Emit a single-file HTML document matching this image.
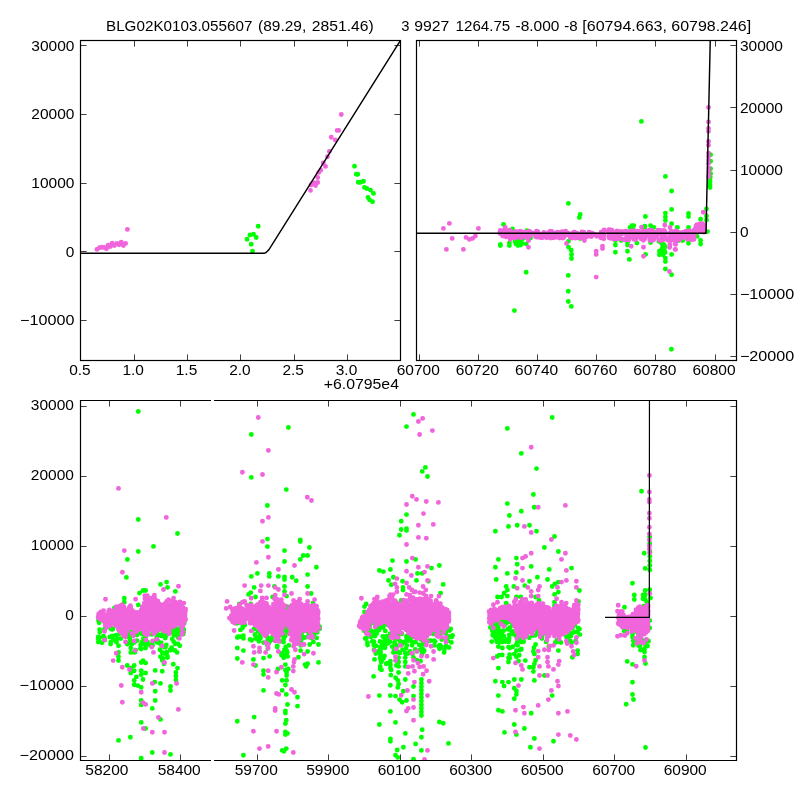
<!DOCTYPE html>
<html><head><meta charset="utf-8"><title>plot</title>
<style>
html,body{margin:0;padding:0;background:#fff;}
body{width:800px;height:800px;overflow:hidden;font-family:"Liberation Sans",sans-serif;}
svg{display:block}
text{font-family:"Liberation Sans",sans-serif;font-size:14.2px;fill:#000}
.fr{fill:none;stroke:#000;stroke-width:1.2}
.tk{stroke:#000;stroke-width:.75}
.ln{fill:none;stroke:#000;stroke-width:1.2;stroke-linejoin:round}
.p{fill:none;stroke:#f064dc;stroke-width:4.9;stroke-linecap:round}
.g{fill:none;stroke:#00ff00;stroke-width:4.9;stroke-linecap:round}
</style></head><body>
<svg width="800" height="800" viewBox="0 0 800 800">
<rect x="0" y="0" width="800" height="800" fill="#fff"/>

<defs><clipPath id="c1"><rect x="80" y="40" width="320" height="320"/></clipPath><clipPath id="c2"><rect x="416" y="40" width="321" height="320"/></clipPath><clipPath id="c3"><rect x="80" y="400" width="131" height="360"/></clipPath><clipPath id="c4"><rect x="214" y="400" width="523" height="360"/></clipPath></defs>
<path class="g" clip-path="url(#c1)" d="M258.2 226.2h0M250 235h0M253.5 234.2h0M247 239.2h0M256.2 237.5h0M251.2 244.2h0M252.5 251.2h0M354.5 166.3h0M356.3 174.2h0M357.8 174.2h0M358.2 182.2h0M360.5 182.2h0M363.5 181.3h0M364.5 187.4h0M366.8 188.5h0M370.5 190.1h0M373.5 193.4h0M368 197.5h0M369.5 199.7h0M372.5 201.7h0"/>
<path class="p" clip-path="url(#c1)" d="M96.9 249.4h0M99.4 247.8h0M101.9 247.2h0M104.1 247.5h0M106.4 248.8h0M108.1 245.3h0M110.3 246.6h0M112.2 243.1h0M114.4 245.6h0M116.9 243.4h0M119.1 244.7h0M121.2 242.2h0M123.4 245.6h0M125.6 243.4h0M127.4 229.4h0M341.3 114.5h0M337.2 130.4h0M338.7 130.4h0M331.2 137.2h0M335.3 140h0M329.4 151.4h0M327.5 156.7h0M323.3 163h0M325.5 166.4h0M320.7 170.2h0M318.8 172.4h0M317.7 177.5h0M314 182.8h0M317.7 182.5h0M311 185h0M315.5 185.5h0M310.5 190.4h0"/>
<path class="g" clip-path="url(#c2)" d="M503.5 224.4h0M500.4 244.4h0M500.4 245.6h0M509.4 243.1h0M509.4 245.6h0M512.5 229h0M526.9 230.6h0M526.2 244h0M530.6 237.8h0M580.2 214.4h0M579.4 217.5h0M568.5 241.2h0M568.5 247.1h0M571.2 250.2h0M571.5 254.4h0M571.5 258.5h0M580.2 238.5h0M568.4 203.4h0M671.6 191h0M671.6 209.4h0M665.4 213.1h0M665.4 216.9h0M665.4 220.6h0M645.4 216.5h0M631.9 225.6h0M633.8 225.6h0M630 227.5h0M633.1 229.4h0M644.8 226.2h0M644.8 228.8h0M650.6 225.6h0M653.8 227.5h0M651.9 228.8h0M671.6 223.8h0M677.5 227.5h0M615.4 240.6h0M615.4 245h0M615.4 252.2h0M621.2 240.6h0M627.5 242.5h0M627.5 245h0M627.5 251.2h0M629.4 259.4h0M636.9 243.1h0M645.6 254.4h0M650.6 242.5h0M658.8 241.2h0M661.2 242.5h0M662.5 245h0M665 246.9h0M659.4 251.2h0M662.5 251.2h0M665 252.5h0M659.4 254.8h0M663.1 254.8h0M665.4 258.1h0M665.4 261.5h0M665.4 269h0M671.6 254.4h0M671.6 274.8h0M678.8 240h0M688.5 213.4h0M688.5 216.5h0M677.2 227.5h0M688.5 227.5h0M700.6 219.2h0M706.5 208.9h0M706.5 216h0M706.5 220h0M709.5 182.8h0M709.5 186.2h0M707.5 231.6h0M682.7 240.5h0M688.5 243.2h0M700.6 240.5h0M700.6 244h0M697.1 236.4h0M661.4 241.9h0M664.1 244.6h0M662 248.8h0M664.8 251.5h0M661.4 253.6h0M678.6 240.5h0M526.2 272.3h0M514.4 310.6h0M568.3 275.4h0M568.3 291.3h0M568.3 301.5h0M571.3 306.4h0M629.3 259.4h0M671.4 349.3h0M710.6 154.8h0M710.6 161.2h0M710.6 168.8h0M710.6 173.8h0M710 180h0M710 182.5h0M710 185h0M710 187.5h0M710.3 177h0M641.4 121.4h0M665.4 176.4h0M515.5 238.5h0M517 241h0M516 244h0M518.5 239h0M519.5 242.5h0M518 245.5h0M521 240.5h0M522 243.5h0M520.5 245h0M523 238.5h0M515 241.5h0"/>
<path class="p" clip-path="url(#c2)" d="M443.4 228.4h0M449.4 223.4h0M452.2 238.4h0M446.4 249.4h0M463.4 249.4h0M466 237.4h0M469.4 239.4h0M472.6 238.4h0M475.4 236h0M478.4 228.4h0M528.5 247.2h0M528.5 240.6h0M510.2 239.4h0M566.5 243.4h0M584.4 240.4h0M505.2 227.5h0M584.4 240.6h0M596.2 251.2h0M596.2 254.4h0M602.5 246.2h0M602.5 248.5h0M596.2 277.1h0M631.2 246.2h0M643.5 247.2h0M643.5 256.2h0M641.5 227.1h0M664.8 225.2h0M669.8 246.9h0M669.8 245h0M675.6 244.4h0M675.6 249.4h0M669.4 271.5h0M670 227.5h0M703.3 212.3h0M664.8 225h0M669.6 247.4h0M675.1 249.5h0M675.1 244h0M687.5 239.4h0M693.7 237.1h0M708.5 107.5h0M708.5 121.9h0M708.5 128.5h0M708.5 131.2h0M708.5 141.5h0M708.5 145.2h0M708.5 153.1h0M708.5 156.2h0M708.5 160h0M708.5 163.5h0M708.8 168.1h0M708.8 171.2h0M708.8 175h0M708.5 176.9h0M502.9 230.8h0M506.3 230.3h0M505.1 232.5h0M500.1 233.6h0M499.9 233h0M500.2 230.4h0M504 236h0M500.8 231.4h0M506.1 236.9h0M505.6 232.7h0M509.8 230.1h0M508.5 231.9h0M501 230.6h0M502.7 235.9h0M501.4 234.1h0M506.2 232.5h0M505.3 230.2h0M500.1 231.3h0M506.6 232.9h0M502.8 234.2h0M504.3 232h0M507.8 235h0M502.1 234.1h0M505 236.4h0M507.2 231.9h0M509.8 230.6h0M503.9 235.5h0M501.1 233.4h0M513 235.8h0M568.9 235.2h0M577.4 233.4h0M563.5 235.3h0M554.7 234.3h0M574.7 237.7h0M546.5 235.8h0M514.7 236h0M559.8 238.1h0M573.3 233.2h0M539.7 235.8h0M511.7 234.4h0M522.9 232h0M514.5 236.5h0M520 232.9h0M540.1 237.2h0M516.2 234.3h0M552.3 237.3h0M573.1 237.2h0M531.4 234.1h0M537.6 237.3h0M583.7 232.2h0M523.6 232.8h0M528 234.5h0M555.4 233h0M510.3 234.1h0M538.4 235.1h0M583.4 236h0M549.7 235.5h0M562.1 231.6h0M579.3 236.6h0M577.3 236.7h0M540.2 234h0M518 235.6h0M514.8 231.7h0M526.1 232.3h0M536.2 231.6h0M510 232.2h0M517.8 233.7h0M512 237.2h0M557.3 232.2h0M529.4 233.6h0M538 232h0M575.4 238.1h0M545.9 234.5h0M516.6 231.9h0M536.4 233h0M573.8 232.3h0M511.8 237.8h0M550.7 232.2h0M551.8 231.4h0M550.7 238h0M576.5 236h0M530.1 233.7h0M522.9 236.5h0M551 236.6h0M535.4 232.7h0M572.5 238h0M575.7 236.8h0M573 236.3h0M527.5 234.8h0M537.4 231.4h0M512.2 233.1h0M530 236h0M583.7 234.3h0M582.2 238h0M583.5 233.7h0M527 232.8h0M525.1 232.6h0M558.1 237.4h0M574.7 234.5h0M560.3 236.7h0M516.5 235.8h0M580.1 236.6h0M567.8 234.5h0M523.7 236.6h0M535.6 236.7h0M584.8 233.9h0M540.9 237.7h0M565.8 232.4h0M519.8 232.2h0M579.7 236.8h0M521.3 236.9h0M585.5 235.7h0M537 235h0M520.1 231.3h0M584.8 235.7h0M550.5 237.6h0M543.4 237.2h0M573.6 232.7h0M529.4 233.2h0M528.5 235.2h0M530 234.1h0M520.1 237.5h0M537.2 234.4h0M554.9 237.4h0M542.4 237.5h0M548.6 234.9h0M550.3 231.3h0M543.9 232.5h0M510.3 236.7h0M523.3 234.5h0M565.8 235h0M535.1 234.8h0M552.8 236.6h0M518.2 235.1h0M529.1 233.1h0M569.5 234.7h0M553.3 236.4h0M580.3 234.3h0M557.2 234.7h0M549.4 236h0M544.8 234.9h0M546.8 237.7h0M563.8 237.2h0M582.5 233h0M553.1 237.7h0M574.7 232.1h0M519.4 234.3h0M515.6 232.9h0M515.6 235.8h0M570.4 237.4h0M521.9 236.1h0M560.8 232.2h0M578 237.9h0M526.9 237.8h0M540.7 234.6h0M586.2 236.9h0M522.4 234.2h0M549.7 233.5h0M525.1 233.4h0M565.6 231.3h0M552.7 234.2h0M511.4 233.5h0M558 234.7h0M515 238h0M570.7 237.9h0M518.1 233h0M513 236.6h0M530.8 232.1h0M542.5 237.5h0M573.1 233h0M521.5 237.5h0M553.9 236h0M516.9 231.6h0M563 234.1h0M515.6 237.7h0M558.9 236.7h0M516.4 237.1h0M515.1 237.2h0M544.9 233.5h0M552.6 237.6h0M530.6 232.1h0M550.6 232.8h0M518.4 232.3h0M513.9 232.6h0M534 233.3h0M568.5 233.2h0M548.5 232.4h0M536.7 231.3h0M529.3 231.3h0M566.4 235h0M524.6 234.5h0M582 231.9h0M573.1 234.2h0M548.1 237h0M540.3 234.7h0M563 238h0M536.4 236.9h0M564.4 235.6h0M593.2 233.8h0M589.1 232.8h0M589.3 235.6h0M591.4 233h0M589.5 236.1h0M598.5 235.3h0M591.7 233.3h0M591.9 234.3h0M590.3 234.3h0M591.5 236.6h0M599.7 234.7h0M591.3 236.6h0M592.1 233.8h0M588.5 234h0M594 234.5h0M590.8 234.5h0M588.6 233.4h0M589.5 234h0M589 232.3h0M592 233.3h0M595.2 234.6h0M597.1 235.2h0M596.7 236.2h0M593 233.7h0M617.7 231.1h0M613 235.9h0M600.8 237.7h0M616.1 235.7h0M613.2 237.5h0M602.5 234.7h0M609.1 237.7h0M614.5 237.6h0M610.5 238.3h0M612.3 236.4h0M604.1 230h0M602.4 233.2h0M601.9 237.7h0M610.1 235.7h0M611.3 236.2h0M608.8 229.7h0M614.4 236.9h0M609.1 234.8h0M611.9 230.3h0M613.3 232.1h0M601.3 232.2h0M613.1 231.7h0M613.3 239.1h0M608.9 233.4h0M608.6 236.3h0M613.8 235.6h0M611.6 230.4h0M602.7 232.1h0M613.4 232.6h0M610.2 229.8h0M601.1 232.3h0M612.1 236.3h0M612.2 232.5h0M609.3 234.2h0M608.4 230.8h0M616.1 231.6h0M617.6 238.7h0M600.3 234.1h0M614.8 239h0M608.1 232.3h0M603.8 238.8h0M603.8 235.3h0M602.6 234.7h0M617.1 231h0M614.8 234.6h0M642.8 237.5h0M624.5 239.3h0M631.6 230.9h0M618.1 235.4h0M630.6 233.6h0M621.9 234h0M626.9 238.8h0M618 237.9h0M641.5 231.9h0M643.9 237.5h0M643.2 233.5h0M628.4 234.5h0M646 236.4h0M628.1 234.8h0M625.7 231.2h0M620.8 238.7h0M626 239.7h0M625 233.3h0M632.3 232.5h0M628.5 239.9h0M642.8 238.5h0M635.7 239.5h0M644.3 236h0M638.1 231.2h0M638.5 235h0M639.1 236.9h0M626 231.2h0M643.9 231.9h0M631.2 234h0M626.3 237.8h0M645.3 233.2h0M636.4 233.6h0M633.6 234.5h0M622.7 232.3h0M623.8 239.4h0M631.9 232.8h0M643.4 240.3h0M630.6 232h0M623.4 231.6h0M627.6 231.6h0M624.7 233.2h0M633.9 239.2h0M639 234.7h0M629.6 235.7h0M628.6 233.9h0M619.7 233.4h0M645.1 231.9h0M632.1 236.7h0M642.2 232.8h0M625.6 233.1h0M629.2 235h0M644.7 238.8h0M642.4 230.9h0M618.9 237.5h0M643.1 235.2h0M634.4 230.7h0M629 239.6h0M641.1 238.9h0M645.2 233.1h0M621.1 232.2h0M632.6 237.2h0M644.4 237.6h0M636.1 238h0M630.8 236h0M619.1 238.2h0M624.5 239.5h0M636.1 233.6h0M621.6 233.1h0M635.8 237.4h0M621.1 231.4h0M656.5 236.4h0M653.8 232.6h0M658 230.3h0M652 235.1h0M665.2 237h0M663.7 235.2h0M650.7 232.8h0M665.2 237.7h0M652.1 230.4h0M656 237.3h0M654.4 232.9h0M659.3 240h0M650.5 230.6h0M652.8 234.7h0M659.7 232.3h0M661.9 238h0M656.1 232.4h0M665.4 233.5h0M662.4 232.6h0M650.4 238.3h0M651.9 240.3h0M655.9 232.2h0M650.5 234.6h0M659.3 240.3h0M648.9 234.4h0M650.3 240.5h0M648.8 230.7h0M647.2 234.4h0M664 239.6h0M660.7 240.8h0M664.6 233.7h0M649.7 240.1h0M660.9 230.5h0M659.3 234.2h0M653.5 233.7h0M649.4 230.2h0M651.6 233.9h0M665.1 231.5h0M665.3 232.4h0M653.1 238.9h0M662.4 234.8h0M647 235.2h0M653.5 239.9h0M649.9 234.1h0M663.9 230.5h0M654.2 238.8h0M661.3 230.6h0M646.7 230.9h0M664.4 232.9h0M660.9 239.7h0M678.1 232.8h0M693.9 236.1h0M676.2 237.1h0M677.6 232.8h0M669.6 237.5h0M692.9 236.3h0M693.6 230.4h0M675.5 234.8h0M693.9 239.4h0M679.4 232.6h0M680.5 234.9h0M693.2 232h0M690 237.3h0M690.5 237.6h0M685 233.3h0M677.6 233.7h0M689.4 231h0M674.5 237.4h0M675.8 230.8h0M670.4 235.5h0M677.8 239.6h0M692 239.7h0M676.3 231h0M672 235h0M687.6 234.5h0M675.5 234.2h0M685.3 236.7h0M688.6 238.3h0M686.4 231.4h0M690.9 233h0M684 233.8h0M688.3 232.1h0M675.8 232.6h0M673.4 238.7h0M684.2 233.3h0M679.6 239.7h0M682.4 232.4h0M690.1 236.5h0M694.8 231.2h0M681.6 238.1h0M690.9 239h0M670.5 233h0M672.5 232h0M694.3 235.8h0M693.2 233.8h0M691.6 234.5h0M676.1 237.7h0M693.6 231.2h0M684.7 236.2h0M675 233.7h0M673.1 232.2h0M676 236h0M686.1 232.2h0M669.8 233.3h0M686.8 232h0M677.5 232.2h0M689.8 235.5h0M671.1 231.2h0M679.6 235.5h0M685.8 231.1h0M669.6 238.8h0M672.1 236.1h0M671.1 240.5h0M671.1 237.9h0M671.6 236.9h0M676.6 240.8h0M671.6 235.5h0M675.3 235.5h0M668.1 240.2h0M672.2 239.6h0M672.1 240h0M672.6 235.3h0M668.1 237.8h0M674.4 240.2h0M695.9 229h0M698.7 227.9h0M696.5 226h0M700.2 231.6h0M696.1 227.8h0M703 232h0M697 224.6h0M704.4 232.1h0M699.8 224h0M704.3 226.9h0M704 229h0M703.2 224.9h0M702.9 225.5h0M699 230.9h0M703.3 225.1h0M697.2 227h0M700.2 226.9h0M696.2 225.7h0M702.2 231.4h0M695.4 228.4h0M702.6 223.8h0M703.4 224.5h0M701 228.3h0M701.3 226.2h0M699.2 228.6h0M699.3 229.3h0M699.5 227.4h0M695.2 228.9h0M699.9 225.6h0M702.6 230.4h0M699.6 225.1h0M699.7 224.4h0M696.3 227.3h0M695.9 227.4h0M700.1 223.9h0M701.4 224.2h0M702.3 230.3h0M700.1 224h0M700 226.8h0M704.5 224.7h0"/>
<path class="g" clip-path="url(#c3)" d="M138.3 411.5h0M138.3 519.5h0M177.5 533.5h0M153.5 546.4h0M138.3 551.5h0M127.4 559.5h0M126.4 577.4h0M160.5 584.4h0M166.6 582.1h0M167.5 587.4h0M175.4 591.4h0M139.5 593.1h0M143 590.5h0M145.6 590.5h0M124.3 598.2h0M124.3 602.2h0M138.3 604.9h0M114.5 608h0M147.4 601.4h0M118.5 740.4h0M130.4 737.2h0M141.2 758.2h0M152.3 752.5h0M170.5 754.4h0M141.2 722.4h0M145.6 728.5h0M160.5 719.4h0M152.3 708.4h0M141.2 700.5h0M141.2 704.9h0M155.2 700.5h0M155.2 691.2h0M170.5 686.5h0M170.5 690.5h0M160.5 683.4h0M154.7 682.1h0M141.2 687.4h0M137.8 685.6h0M134.2 684.8h0M134.2 680.4h0M136.4 676.9h0M143 679.5h0M141.2 670.8h0M141.2 674.8h0M145.6 673h0M155.2 670.4h0M162.2 671.3h0M175.9 672.5h0M175.9 676h0M175.9 680h0M177.5 668.1h0M173.3 664.3h0M127.2 665.5h0M130.8 668.1h0M134.2 665.5h0M134.2 670.8h0M130.8 673h0M141.2 662.5h0M143 660.6h0M145.6 662.9h0M118.5 652.4h0M118.5 656.8h0M118.5 660.6h0M160.5 656.8h0M162.2 660.2h0M164 663.8h0M167.5 657.6h0M162.2 652.4h0M177.1 652.4h0M130.8 648h0M130.8 652.4h0M134.2 652.4h0M145.6 648h0M110.6 644.1h0M101.9 642.8h0M99.8 632.2h0M99.8 637.5h0M105 640.1h0M103.5 636.2h0M104.9 622.5h0M104.7 629.3h0M98.3 642.1h0M104.4 637.9h0M99.8 620.6h0M98.3 636.9h0M99.2 641.5h0M98.1 638.8h0M104.4 629.5h0M99.1 622.8h0M99.6 629.6h0M98.5 620.2h0M112.7 629.3h0M112.5 637.9h0M111.9 629.4h0M110.7 628.8h0M109.8 637h0M110.8 642.1h0M112.4 635.9h0M113 628.7h0M117.4 638.4h0M116.6 641.7h0M118.5 645.8h0M119.6 633.8h0M116.1 635.1h0M115.3 640.6h0M116.5 642.1h0M120.9 638.6h0M134.3 642.4h0M127 636.3h0M128.6 632.2h0M131.8 643.2h0M136.9 640.6h0M129.5 633.3h0M127.2 644.1h0M130.9 632h0M130.9 633h0M133.4 634.7h0M129.2 642.5h0M132.2 643.4h0M137.3 633.3h0M128.6 635h0M134 632.8h0M135.6 650.1h0M129.9 638.1h0M134.1 632h0M130.9 641.8h0M131.9 643.9h0M135.1 652.1h0M136.9 635.1h0M132.8 632.3h0M129.6 638.2h0M135.6 632.4h0M144.5 630h0M140.4 648.4h0M145.1 632.1h0M145.4 637.7h0M140.7 645h0M142 633.9h0M147.9 630.3h0M146.2 644.2h0M147.4 630h0M143.7 643.2h0M143.5 643.2h0M140.1 632.5h0M139.4 632.6h0M146.5 634.3h0M147.5 642h0M141.7 642.4h0M143.4 638.7h0M144.2 644.3h0M145.4 633.1h0M141.2 649h0M150.1 645.4h0M151.9 634.4h0M157.6 642.6h0M152.6 642.6h0M152.6 645.4h0M157.3 634.2h0M155.5 640.4h0M157.8 641h0M156.7 637.6h0M156.9 641.7h0M165.2 638h0M161.1 642.6h0M164.2 631.6h0M167.1 628.9h0M158.3 630.1h0M167.3 629.4h0M159.4 635.2h0M158.4 628.2h0M164.3 647.1h0M165.4 647.3h0M163.9 628.7h0M166.2 635.8h0M166.9 652.2h0M166.7 628.7h0M167.4 656.2h0M160.1 629.4h0M158.3 629.5h0M166.1 653.4h0M166.3 644.9h0M160.9 644.8h0M159 629.3h0M160 649.7h0M162.2 634.5h0M160.6 628.1h0M165.2 633.5h0M161.2 635.9h0M163 658.4h0M164.2 653.5h0M174.1 628.2h0M177.7 636.1h0M177 633.9h0M172.2 638.9h0M170.9 649.1h0M171.7 647.7h0M172 628h0M179.8 645.8h0M174.9 628h0M178 637.6h0M174.9 630.4h0M178.3 633.9h0M179.4 632h0M172.1 632.5h0M175 643.8h0M176.4 629.2h0M177.9 628.8h0M177.9 643.7h0M173.6 641.6h0M173.9 635.2h0M170.9 650.1h0M170.3 650h0M172.6 630.8h0M175 650.5h0M178.8 634.7h0M182.3 624.4h0M183.8 629.4h0M183.2 634.1h0M181.6 626.1h0M184.2 623.3h0M183.7 632.1h0"/>
<path class="p" clip-path="url(#c3)" d="M118.5 488.4h0M166.3 517.4h0M124.3 550.6h0M122.4 572.2h0M105.5 599.3h0M163.5 589.5h0M178.5 586.3h0M135.6 599.3h0M144.8 595.6h0M147.4 595.6h0M154.4 595.2h0M151.8 597.9h0M173.6 598.2h0M166.6 601.4h0M122 604.9h0M130.4 605.8h0M178.9 603.1h0M183.8 603.1h0M113.2 660.6h0M116.2 653.2h0M122.3 667.2h0M129.5 669.5h0M121.3 685.5h0M122.3 702.2h0M141.2 692.3h0M143 702.6h0M145.6 704.4h0M152.3 683.4h0M176.6 683.4h0M178.4 709.4h0M158.4 717.5h0M143.4 728.5h0M152.3 732.2h0M164.5 732.2h0M164.5 752.5h0M164.5 662.5h0M135.1 650.6h0M151.8 647.1h0M153.5 652.4h0M162.2 645.9h0M125.5 641.9h0M134.2 641h0M104.5 640.1h0M104.5 631.4h0M152.6 641h0M157 639.2h0M179.4 638.4h0M182.4 627h0M182.4 632.2h0M133.4 635.8h0M146.5 634.9h0M123.8 635.8h0M98.7 613.9h0M98.5 615.6h0M98.1 617.3h0M98.5 617.8h0M100.1 612.9h0M100.5 614.6h0M99.9 616.3h0M99.8 618h0M100.2 619.2h0M102.2 612.7h0M101.5 614.4h0M101.5 616.1h0M101.6 617.8h0M101.9 619.5h0M103.4 612.7h0M103.6 614.4h0M103.2 616.1h0M103.4 617.8h0M103.2 619.5h0M103.6 621h0M104.9 615.2h0M105.7 616.9h0M104.9 618.6h0M105.1 620.3h0M105.7 622h0M105.5 623.7h0M105.3 625.2h0M107.2 615.1h0M106.9 616.8h0M106.6 618.5h0M107.1 620.2h0M106.6 621.9h0M106.7 623.6h0M107 625.2h0M108.5 611.7h0M108.9 613.4h0M108.8 615.1h0M108.7 616.8h0M108.8 618.5h0M108.6 620.2h0M108.3 621.9h0M108.8 623.6h0M108.6 625.3h0M108.7 625.4h0M110.6 611.5h0M110.8 613.2h0M110.3 614.9h0M110.4 616.6h0M110.6 618.3h0M110.3 620h0M110.1 621.7h0M110.6 623.4h0M110.7 625.1h0M110.4 625.5h0M112.4 611.1h0M112.2 612.8h0M112.2 614.5h0M112 616.2h0M111.9 617.9h0M112.2 619.6h0M111.6 621.3h0M112.1 622.8h0M113.7 610.6h0M114 612.3h0M114 614h0M113.9 615.7h0M113.5 617.4h0M113.7 619.1h0M113.7 620.8h0M113.9 622.5h0M113.8 623.2h0M115.9 612.4h0M115.1 614.1h0M115.6 615.8h0M115.7 617.5h0M115.3 619.2h0M115.4 620.9h0M115.9 622.6h0M115 624.3h0M115.5 625.5h0M117.2 611.3h0M116.8 613h0M117.4 614.7h0M117.6 616.4h0M117.2 618.1h0M116.8 619.8h0M117.2 621.5h0M117.2 623.2h0M117.4 624.9h0M117.2 626.1h0M119.2 610.6h0M118.9 612.3h0M118.8 614h0M119.3 615.7h0M118.6 617.4h0M119 619.1h0M118.7 620.8h0M119.1 622.5h0M118.5 624.2h0M119.3 625.9h0M118.7 627.6h0M118.4 629.3h0M118.9 630h0M120.3 609.5h0M120.4 611.2h0M120.1 612.9h0M120.5 614.6h0M120.5 616.3h0M120.7 618h0M120.4 619.7h0M120.3 621.4h0M120.3 623.1h0M120.8 624.8h0M121 626.5h0M120.6 628.2h0M120.3 629.9h0M120.9 631.6h0M120.6 632.2h0M121.9 606.7h0M122.5 608.4h0M122.6 610.1h0M122.4 611.8h0M122.2 613.5h0M122.3 615.2h0M122 616.9h0M122.7 618.6h0M122.1 620.3h0M122.4 622h0M122.6 623.7h0M122.6 625.4h0M122.2 627.1h0M122 628.8h0M122.3 630.5h0M121.9 632.2h0M122.3 633.3h0M124.3 608.1h0M123.8 609.8h0M124.3 611.5h0M123.7 613.2h0M123.8 614.9h0M123.7 616.6h0M123.9 618.3h0M123.6 620h0M123.5 621.7h0M124.2 623.4h0M123.7 625.1h0M123.7 626.8h0M123.8 628.5h0M123.9 630.2h0M123.9 631.9h0M124 633.3h0M125.5 610.6h0M126.1 612.3h0M126 614h0M125.2 615.7h0M126 617.4h0M126.1 619.1h0M125.9 620.8h0M125.3 622.5h0M126 624.2h0M125.8 625.9h0M125.2 627.6h0M125.2 629.3h0M126.1 631h0M125.7 631.7h0M127.5 609.9h0M127.1 611.6h0M127 613.3h0M127 615h0M127.1 616.7h0M127.6 618.4h0M127.2 620.1h0M127 621.8h0M127.8 623.5h0M127.6 625.2h0M127 626.9h0M127.7 628.6h0M127.5 630.3h0M127.4 631.1h0M129.4 607.1h0M129.3 608.8h0M129.4 610.5h0M128.7 612.2h0M129.2 613.9h0M129.1 615.6h0M129.3 617.3h0M129 619h0M129.4 620.7h0M129.1 622.4h0M128.8 624.1h0M128.8 625.8h0M128.7 627.5h0M129.1 627.8h0M130.7 607.1h0M130.3 608.8h0M130.7 610.5h0M130.4 612.2h0M130.7 613.9h0M130.7 615.6h0M130.8 617.3h0M131.1 619h0M130.3 620.7h0M131.1 622.4h0M130.7 624.1h0M130.8 625.8h0M130.8 626.9h0M132.3 610.4h0M132.4 612.1h0M132.9 613.8h0M132 615.5h0M132.6 617.2h0M132.6 618.9h0M132 620.6h0M132.6 622.3h0M132.6 624h0M132.9 625.7h0M132.3 627.4h0M132.5 627.7h0M134.6 612.1h0M134.2 613.8h0M134.1 615.5h0M134.5 617.2h0M133.7 618.9h0M134.4 620.6h0M134.3 622.3h0M134 624h0M134.5 625.7h0M134 627.4h0M134.2 628.7h0M136.1 613.2h0M135.6 614.9h0M135.8 616.6h0M135.8 618.3h0M135.9 620h0M136.2 621.7h0M135.6 623.4h0M136.2 625.1h0M135.8 626.8h0M135.9 628.5h0M135.6 630.2h0M135.8 630.5h0M137.6 612.5h0M138 614.2h0M137.7 615.9h0M137.8 617.6h0M137.4 619.3h0M137.4 621h0M137.3 622.7h0M137.6 624.4h0M137.7 626.1h0M137.8 627.8h0M137.5 628.8h0M139.6 612.7h0M139.3 614.4h0M138.8 616.1h0M139.1 617.8h0M138.8 619.5h0M138.9 621.2h0M139.7 622.9h0M139.4 624.6h0M139.4 626.3h0M139.2 626.6h0M141.2 610.3h0M141.4 612h0M141.1 613.7h0M141.1 615.4h0M141.1 617.1h0M141.1 618.8h0M141 620.5h0M141.1 622.2h0M140.7 623.9h0M141.1 625.6h0M140.9 627.1h0M142.3 606.7h0M142.3 608.4h0M142.2 610.1h0M142.9 611.8h0M143.1 613.5h0M142.8 615.2h0M142.5 616.9h0M143 618.6h0M142.9 620.3h0M142.7 622h0M142.4 623.7h0M142.5 625.4h0M142.6 627.1h0M142.5 628.8h0M142.6 629.2h0M144.3 603h0M144.5 604.7h0M144.8 606.4h0M143.9 608.1h0M144.4 609.8h0M143.9 611.5h0M144 613.2h0M144.7 614.9h0M144.4 616.6h0M144.8 618.3h0M144.3 620h0M143.9 621.7h0M144.2 623.4h0M144.4 625.1h0M144.8 626.8h0M144.8 628.5h0M144.3 630.2h0M144.3 631.4h0M146.2 598.4h0M145.8 600.1h0M145.7 601.8h0M145.6 603.5h0M145.6 605.2h0M146.2 606.9h0M145.7 608.6h0M146.5 610.3h0M145.6 612h0M146.4 613.7h0M145.7 615.4h0M145.6 617.1h0M146.3 618.8h0M145.8 620.5h0M146.3 622.2h0M145.7 623.9h0M145.6 625.6h0M146.3 627.3h0M146.3 629h0M146.4 630.7h0M146 632.3h0M148 598.1h0M147.3 599.8h0M147.9 601.5h0M148 603.2h0M147.7 604.9h0M148.2 606.6h0M147.5 608.3h0M148.2 610h0M148 611.7h0M147.3 613.4h0M147.3 615.1h0M147.9 616.8h0M148.1 618.5h0M147.3 620.2h0M147.6 621.9h0M148 623.6h0M147.4 625.3h0M148.1 627h0M147.7 628.7h0M147.3 630.4h0M147.7 631.7h0M149.4 600.9h0M149.6 602.6h0M149.1 604.3h0M149.7 606h0M149.3 607.7h0M149.6 609.4h0M149.6 611.1h0M149.4 612.8h0M149.3 614.5h0M149.7 616.2h0M149.9 617.9h0M149.7 619.6h0M149.5 621.3h0M149.2 623h0M149 624.7h0M149.9 626.4h0M149.7 628.1h0M149.4 629.2h0M151.5 602.8h0M151 604.5h0M151.3 606.2h0M151.6 607.9h0M151.5 609.6h0M151.3 611.3h0M151 613h0M151.1 614.7h0M151.5 616.4h0M151 618.1h0M151.3 619.8h0M151.3 621.5h0M151.5 623.2h0M151.5 624.9h0M150.9 626.6h0M150.7 628.3h0M151.1 629.5h0M152.9 600.7h0M153.2 602.4h0M153.2 604.1h0M152.4 605.8h0M153.2 607.5h0M153.2 609.2h0M153.2 610.9h0M152.9 612.6h0M152.6 614.3h0M153.2 616h0M153.2 617.7h0M153 619.4h0M153.3 621.1h0M152.7 622.8h0M152.4 624.5h0M152.9 626.2h0M153.1 627.9h0M152.6 629.6h0M152.8 630h0M154.8 598.5h0M155 600.2h0M154.3 601.9h0M154.7 603.6h0M154.7 605.3h0M154.5 607h0M154.3 608.7h0M154.3 610.4h0M154.8 612.1h0M154.8 613.8h0M154.5 615.5h0M154.1 617.2h0M154.9 618.9h0M154.8 620.6h0M154.3 622.3h0M154.6 624h0M154.9 625.7h0M154.9 627.4h0M154.6 629.1h0M154.5 630.7h0M155.9 602.3h0M155.9 604h0M155.9 605.7h0M156.5 607.4h0M156.1 609.1h0M156.3 610.8h0M156.2 612.5h0M156.3 614.2h0M155.9 615.9h0M155.8 617.6h0M156.7 619.3h0M156.1 621h0M155.9 622.7h0M156.4 624.4h0M156.5 626.1h0M155.9 627.8h0M156.3 629.5h0M156.1 631.2h0M156.2 631.6h0M158 604.4h0M157.5 606.1h0M157.5 607.8h0M158.4 609.5h0M158.3 611.2h0M157.9 612.9h0M158 614.6h0M157.7 616.3h0M158.2 618h0M157.9 619.7h0M158.4 621.4h0M158.2 623.1h0M158.3 624.8h0M158.4 626.5h0M157.7 628.2h0M157.5 629.9h0M157.9 629.9h0M159.2 603.7h0M159.2 605.4h0M159.7 607.1h0M160 608.8h0M159.6 610.5h0M160.1 612.2h0M160.1 613.9h0M159.2 615.6h0M159.7 617.3h0M159.5 619h0M159.3 620.7h0M160.1 622.4h0M159.4 624.1h0M159.7 625.8h0M159.6 627.3h0M161.5 605.2h0M161.8 606.9h0M161.5 608.6h0M161.2 610.3h0M161.3 612h0M161 613.7h0M161.8 615.4h0M161.8 617.1h0M161.1 618.8h0M160.9 620.5h0M161.1 622.2h0M161.2 623.9h0M161.8 625.6h0M161.8 627.3h0M161.3 628h0M163.3 606.5h0M163.3 608.2h0M163.2 609.9h0M163.5 611.6h0M162.6 613.3h0M162.7 615h0M163.3 616.7h0M163.5 618.4h0M163.2 620.1h0M162.8 621.8h0M163.1 623.5h0M163.3 625.2h0M162.7 626.9h0M162.9 628.6h0M163 630.2h0M164.5 603.9h0M164.4 605.6h0M164.7 607.3h0M164.4 609h0M164.5 610.7h0M164.4 612.4h0M164.9 614.1h0M164.3 615.8h0M165 617.5h0M164.4 619.2h0M164.3 620.9h0M165.2 622.6h0M164.5 624.3h0M165.2 626h0M165.1 627.7h0M165.1 629.4h0M164.4 631.1h0M164.7 631.5h0M166.9 603.1h0M166.8 604.8h0M166.6 606.5h0M166.4 608.2h0M166.3 609.9h0M166.8 611.6h0M166.4 613.3h0M166.6 615h0M166.1 616.7h0M166.2 618.4h0M166 620.1h0M166.7 621.8h0M166.5 623.5h0M166.1 625.2h0M166.8 626.9h0M166.2 628.6h0M166.4 630.3h0M166.4 630.4h0M167.8 604.8h0M167.9 606.5h0M168.5 608.2h0M168 609.9h0M167.8 611.6h0M168.1 613.3h0M168 615h0M168.6 616.7h0M167.8 618.4h0M168.6 620.1h0M167.7 621.8h0M168.5 623.5h0M168.3 625.2h0M167.9 626.9h0M168.1 628.5h0M169.6 607.5h0M169.6 609.2h0M169.7 610.9h0M170.3 612.6h0M170.3 614.3h0M170.3 616h0M169.4 617.7h0M169.6 619.4h0M170.2 621.1h0M169.4 622.8h0M170.1 624.5h0M169.6 626.2h0M169.8 626.7h0M172 604.9h0M171.1 606.6h0M171.9 608.3h0M171.4 610h0M171.2 611.7h0M171.1 613.4h0M171.9 615.1h0M171.6 616.8h0M171.2 618.5h0M171.5 620.2h0M172 621.9h0M171.3 623.6h0M171.6 625.3h0M171.2 627h0M171.5 627.5h0M173.5 601.8h0M172.9 603.5h0M172.8 605.2h0M172.8 606.9h0M173.4 608.6h0M173.2 610.3h0M173 612h0M173 613.7h0M173.4 615.4h0M173.5 617.1h0M173.6 618.8h0M173.3 620.5h0M173 622.2h0M172.8 623.9h0M173.2 625.1h0M175.2 602.7h0M174.9 604.4h0M175.2 606.1h0M174.5 607.8h0M175.3 609.5h0M174.8 611.2h0M175.3 612.9h0M175.3 614.6h0M174.9 616.3h0M174.5 618h0M175.4 619.7h0M174.9 621.4h0M175.3 623.1h0M174.7 624.8h0M174.9 626.1h0M176.5 604.2h0M176.3 605.9h0M176.5 607.6h0M176.7 609.3h0M176.2 611h0M176.7 612.7h0M176.6 614.4h0M176.7 616.1h0M176.3 617.8h0M176.9 619.5h0M177 621.2h0M177 622.9h0M176.6 623.9h0M178.2 605.4h0M178.6 607.1h0M178.2 608.8h0M178.6 610.5h0M177.9 612.2h0M178.7 613.9h0M178.8 615.6h0M178.3 617.3h0M178.4 619h0M178.4 620.7h0M178.3 622h0M180.5 603.9h0M179.8 605.6h0M179.7 607.3h0M179.7 609h0M179.8 610.7h0M180.4 612.4h0M179.6 614.1h0M179.6 615.8h0M180.2 617.5h0M179.7 619.2h0M179.6 620.9h0M180.1 622.6h0M180 624.3h0M181.8 603.8h0M181.8 605.5h0M182 607.2h0M181.4 608.9h0M182.1 610.6h0M182 612.3h0M181.3 614h0M181.4 615.7h0M181.7 617.4h0M181.8 619.1h0M181.5 620.8h0M181.4 622.5h0M181.7 624.2h0M181.4 625.9h0M181.7 626.6h0M183.1 607.6h0M183.5 609.3h0M183.7 611h0M183.1 612.7h0M183.8 614.4h0M183.9 616.1h0M183.3 617.8h0M183.4 619.5h0M183.8 621.2h0M183.5 622.9h0M183.3 624.6h0M183.4 624.6h0M185.6 609.3h0M185.4 611h0M185 612.7h0M184.9 614.4h0M185 616.1h0M185.1 617.8h0M185.6 619.5h0M185.1 620.4h0M168.6 599.6h0M169.5 632.3h0M103.6 610.6h0M181.9 634.2h0M120.6 605.6h0M153.7 633.5h0M144.9 598.4h0M136.5 631.8h0M100.8 612h0M182.9 631.9h0M180 602h0M169 633.7h0M175.5 602.1h0M154.5 633.3h0M157.7 600.9h0M145.9 640h0M152.7 600.8h0M144 633h0M181.2 603.3h0M125.4 636.7h0M109.4 609.9h0M181.7 628h0M122.2 604.7h0M145.2 633h0M109.7 611.6h0M124.4 635.2h0M123.9 607h0M106.6 627.5h0M171.6 601.5h0M148.3 634.4h0M116.4 606.8h0M138.9 629.6h0M152 601h0M125.9 634.4h0M118.2 606.8h0M132.1 633.4h0"/>
<path class="g" clip-path="url(#c4)" d="M288.4 427.5h0M251.3 434.5h0M251.3 477.4h0M286.3 489.6h0M267.4 505.5h0M267.4 539.1h0M300.3 540h0M267.4 546.6h0M300.3 541.5h0M309.4 547.5h0M284.5 550.6h0M303.2 555.5h0M307.6 555.5h0M300.3 559.4h0M284.5 561.5h0M316.4 567.2h0M257.4 573.4h0M251.3 576.4h0M269.3 573.4h0M269.3 576.4h0M278.4 576.4h0M284.5 576.9h0M284.5 579.5h0M292.2 577.2h0M296.2 580.7h0M307.6 574.6h0M307.6 586.5h0M284.5 586.5h0M284.5 591.4h0M274.4 586.5h0M254.2 587.4h0M250.8 592.6h0M248.5 594.4h0M255.5 597h0M311.1 593.5h0M286.6 596.1h0M272.6 597h0M250.8 604h0M239.4 604h0M287.5 606.6h0M312.9 603.1h0M243.4 755.3h0M237.3 721.2h0M254.2 717.1h0M263.5 690.4h0M282.2 690.4h0M286.3 694.4h0M297.5 697.2h0M297.5 706.1h0M287.5 704.5h0M285.4 711h0M285.4 713.1h0M286.3 720.3h0M285.4 723.6h0M285.4 732h0M287.5 733.4h0M285.4 734.6h0M282.2 750.4h0M286.3 748.6h0M284 751.2h0M285.4 685.1h0M282.2 680.4h0M286.6 680.4h0M286.6 675.5h0M285.4 669.9h0M288.4 669h0M286.6 672.5h0M285.4 664.6h0M263.5 670.8h0M263.5 674.6h0M255.5 665.5h0M253.4 659.4h0M237.3 658.5h0M237.3 648h0M243.4 650.6h0M237.3 637.5h0M243.4 635.8h0M243.4 638.4h0M255.5 638.4h0M263.5 658.1h0M269.6 656.4h0M259.5 651.5h0M282.2 653.2h0M281.4 655h0M298.5 657.3h0M305 664.6h0M307.6 663.8h0M306.2 666.4h0M318.5 662.4h0M318.5 644.5h0M307.6 651.5h0M300.6 650.6h0M313.4 641.9h0M317.2 632.2h0M277.9 669h0M299.8 637.5h0M305 637.5h0M308.5 636.6h0M239.2 622h0M238.1 636.6h0M240.4 629.9h0M244.9 625.1h0M242.9 625.3h0M236.6 623.4h0M240 636.8h0M239.5 622.4h0M242.6 627.7h0M238 622.8h0M258.9 641.2h0M254 629h0M258.1 631.3h0M260.2 635.1h0M256.2 638.6h0M258.9 637.2h0M255.7 637.5h0M258.5 638h0M251.5 640.4h0M250.1 639.5h0M257 637.6h0M261.6 633.3h0M255 634.4h0M260.5 638h0M268.8 643h0M270.2 640.6h0M267.3 644.9h0M272 639.8h0M267.8 639.7h0M277.3 646h0M270 641.3h0M267.5 637.3h0M272.4 636.9h0M263.6 642.6h0M267.8 648.5h0M277.1 647h0M282.6 655h0M288.3 621.8h0M281.4 606.1h0M285 629.4h0M287.2 652.3h0M289 627.9h0M285.1 626.7h0M284.1 636.6h0M285.8 618.3h0M288.6 618h0M285.2 636.1h0M284 608h0M285.5 620.5h0M288 629.9h0M284.9 655.4h0M286 622.5h0M283.7 657.7h0M287.5 627.4h0M283.5 610.4h0M287.6 656.4h0M281.9 626.4h0M286.5 650.5h0M288.9 645.4h0M284.4 650h0M283.3 609.9h0M285 626.3h0M282.5 611h0M285.8 633.2h0M288.9 618.1h0M281.3 633.6h0M287.3 621h0M286.5 615.9h0M283.4 606h0M285.7 646.9h0M282.6 635.6h0M285.4 625.6h0M286.2 614.1h0M289 627.5h0M284.3 629.9h0M282.3 608.7h0M281.9 641.4h0M282.4 608.1h0M287.6 627h0M287.5 632.2h0M281.1 607.1h0M283.6 642.1h0M283.8 638.5h0M283.1 610.3h0M288.2 608.1h0M283.8 630.4h0M284.1 623h0M288.1 606.9h0M288.7 630.4h0M286 622.5h0M281.4 613.4h0M309.7 644.5h0M310.4 633.2h0M300.9 642h0M311.4 637.9h0M311.2 636h0M302.2 632.2h0M299.5 640.1h0M310 633.1h0M308.7 635.8h0M298.8 632.2h0M299 633.8h0M300.7 645.4h0M297.8 637.1h0M302.2 636.6h0M297 634.5h0M309.2 630.9h0M299.9 633.7h0M300.5 631.6h0M296.6 632.1h0M301.5 639h0M307.3 631.2h0M300.3 630.6h0M298 642.4h0M309.4 635.1h0M298.5 641.8h0M317.8 628.5h0M319.7 628.8h0M319.6 626.7h0M313.8 630.8h0M313 629.9h0M314.1 634.2h0M316.7 637.9h0M314 628.7h0M413.5 414.4h0M406.5 426.6h0M425.4 467.4h0M422.2 471.4h0M427.5 476.5h0M406.5 514.6h0M401.2 521.3h0M401.2 529.5h0M406.5 528.6h0M406.5 530.4h0M399.5 535.3h0M392.5 560.6h0M406.5 561.5h0M415.6 559.4h0M439.4 565.5h0M431.5 568.1h0M379.4 570.4h0M383.4 571.6h0M390.4 569.5h0M417.5 573.4h0M422.2 573.4h0M393.4 577.2h0M388.5 580.4h0M402.5 581.2h0M416.5 580.4h0M428.4 581.2h0M391.3 584.8h0M443.2 584.4h0M403 587.4h0M403 590h0M440.6 593.1h0M366.2 604h0M364.5 606.6h0M364.5 611.9h0M401.2 600.5h0M439.8 604.9h0M379.4 724.5h0M395.5 722.4h0M390.4 711.4h0M390.4 739h0M390.4 741.3h0M405.3 733.4h0M397.2 750h0M403.4 747.2h0M395.5 755.3h0M397.8 757.4h0M413.5 759.1h0M415.6 743.9h0M421.4 750.4h0M421.4 737.2h0M422.2 729.7h0M439.4 722h0M443.2 723.2h0M448.5 743.4h0M373.6 676.4h0M379.4 695.6h0M390.4 695.6h0M395.5 696.1h0M390.4 685.3h0M399.5 699.6h0M402.1 702.2h0M406.5 700.5h0M403.4 691.2h0M413.5 686.5h0M413.5 696.1h0M405.3 679.5h0M395.6 677.8h0M397.8 680.4h0M398.6 683.9h0M397.8 687.4h0M390.8 675.1h0M398.6 672.5h0M380.2 654.1h0M380.2 657.6h0M381.1 662h0M380.2 666.4h0M380.2 669h0M374.5 659.4h0M390.4 661.1h0M390.4 664.6h0M390.4 668.1h0M398.6 657.6h0M398.6 662h0M398.6 666.4h0M405.3 653.2h0M405.3 657.6h0M405.3 662h0M405.3 666.4h0M444.1 652.4h0M413.5 657.6h0M417 660.2h0M420.5 661.1h0M421.4 679.5h0M421.4 683.1h0M421.4 686.7h0M421.4 690.3h0M421.4 693.9h0M421.4 697.5h0M421.4 701.1h0M421.4 704.7h0M421.4 708.3h0M421.4 711.9h0M421.4 715.5h0M370 633h0M367.4 642.8h0M379.2 629.8h0M385.6 622.8h0M382.4 625.9h0M372.7 631.6h0M366.4 626h0M387.8 620.7h0M382.6 624.1h0M379.7 619.3h0M378 625.2h0M365.8 623.5h0M370.3 623.9h0M384.1 619.7h0M375.3 623.1h0M385.7 644.2h0M388.1 643.2h0M371.7 619.8h0M383 618.2h0M373.8 634.9h0M382.5 626.7h0M371 636.2h0M373.9 641.8h0M369.1 633.7h0M389.6 619.5h0M384 637.5h0M365.1 618.3h0M369.5 620.3h0M374.7 623.6h0M372.7 618.3h0M369 634h0M380 641.5h0M371.1 636.8h0M383.2 627.4h0M364 624.9h0M385.7 641.3h0M365.2 623.2h0M381 642.1h0M370.8 618.4h0M386.2 619.4h0M389.6 621.4h0M366.4 638h0M375 636h0M387.2 638h0M366.5 623.1h0M375.9 645.8h0M383.4 645.1h0M387.2 637.6h0M376.7 633.6h0M383.6 618.5h0M378.3 627.2h0M367.6 645h0M365.2 638.5h0M386.6 636.3h0M379.3 622.6h0M381.9 646.7h0M371 630.8h0M374 618.6h0M369.6 626.7h0M367.8 623.8h0M382.8 636.5h0M370.8 622h0M376.5 629.9h0M373.8 645.3h0M388.8 623.5h0M379.8 619.9h0M386.8 624.5h0M385.3 630.9h0M382.7 620.5h0M376.9 632.6h0M387.3 638.7h0M372.1 619.4h0M369.8 625.2h0M371.9 618.6h0M383.6 621.1h0M367.2 627.7h0M377.1 624.2h0M368.7 625.3h0M364.3 618.8h0M385 647.7h0M384.1 618.9h0M379.8 647.2h0M377.7 619.3h0M369.3 627.3h0M364.2 630.8h0M382 644.7h0M390.2 633.6h0M371 634.5h0M367.9 622.2h0M385.7 618.2h0M372.3 641.5h0M381.9 620.8h0M389.9 641.7h0M386 620.5h0M384.8 641.1h0M398.1 636.8h0M402.6 649.6h0M410.2 637.7h0M419.4 637.7h0M393.4 635.1h0M412.7 642.4h0M415.3 649.4h0M423.2 652h0M408.5 640.6h0M401.9 633.7h0M394.6 642.8h0M397.4 645.6h0M424 639.4h0M393.3 632.8h0M398.3 639.3h0M392.1 646.6h0M420.2 650h0M406 648.4h0M413.8 635.9h0M405.9 641.1h0M406.5 637.1h0M419.3 645h0M397.4 652h0M406.6 636.2h0M403.5 642.3h0M394.8 634.3h0M407.2 636.7h0M422 654.1h0M424.2 650.8h0M412.5 653.8h0M394 649.2h0M412.1 645.3h0M410.8 636.2h0M407.9 653.5h0M401.9 644.5h0M421.2 637.2h0M398.2 632.2h0M406.8 645.4h0M413.8 632.7h0M411.2 637.8h0M409.5 638.7h0M405.1 642.3h0M398 633.1h0M410.1 651.5h0M420.5 633.1h0M395.1 635.4h0M400.3 641.5h0M410.3 640.5h0M410.9 634.9h0M408.9 633.1h0M394.6 642.9h0M394.4 638.6h0M420.5 639.3h0M415.6 642h0M395.8 647.6h0M444.4 649.7h0M447.7 628.9h0M427.3 633.9h0M439.5 648.8h0M426.2 643.4h0M423.8 643.4h0M433.5 630.9h0M440.4 628.1h0M431.3 630.5h0M435.2 641.6h0M441.3 646.6h0M439.5 646.2h0M449 647.5h0M445.1 629.8h0M445.7 632.9h0M447.6 640.8h0M433.6 629.2h0M451.4 642.4h0M423.3 641.9h0M425.1 638.9h0M446.9 637.5h0M450.7 629h0M429.9 640.7h0M435.8 630.2h0M440 645.2h0M422.6 629h0M446.8 629h0M439.2 630.1h0M443.3 631.9h0M426.5 633.7h0M438.7 646.3h0M447.1 641.1h0M422.4 648.4h0M426.7 632.9h0M449.1 636.4h0M423.1 644.1h0M447.4 630h0M434.2 640.8h0M426.9 635.8h0M434.2 645.4h0M440.9 646.2h0M432.2 628.6h0M449.7 630.6h0M423.4 638.5h0M433.2 629.8h0M439.9 635.6h0M433 633.8h0M440 628h0M422.6 632.7h0M452.6 635.4h0M426.5 628.3h0M430.5 640.6h0M437.5 631.6h0M439.6 631.4h0M451.7 637h0M423.1 649.8h0M445.9 637.8h0M446 646.2h0M441.7 639.6h0M430.7 633.3h0M396.4 665.4h0M391.1 670h0M393.4 652.5h0M386.2 663.7h0M381.8 660.7h0M383.4 658.4h0M381.4 648.5h0M399.7 652.9h0M382.3 656.6h0M378.6 651.3h0M375.8 653.5h0M396.4 648h0M384.5 655.9h0M380.5 658.9h0M373.9 650h0M380.6 652.5h0M387.4 663.3h0M381.5 669.9h0M552.2 417.5h0M507.3 428.4h0M521.3 453.4h0M536.5 468.6h0M533.4 494.5h0M507.3 503.6h0M534.2 507.3h0M521.3 511.3h0M509.4 515.5h0M508.5 526.4h0M517.2 525.3h0M529.5 525.3h0M495.4 531.2h0M536.5 531.2h0M554.5 536.5h0M544.4 547.5h0M558.4 551.5h0M498.4 559.4h0M516.4 558.1h0M517.2 564.3h0M495.4 567.2h0M531.2 566.4h0M549.3 569.4h0M571.5 568.1h0M507.3 573.4h0M516.4 572.5h0M496.2 579.5h0M537.4 577.2h0M529.5 581.2h0M547.5 579.5h0M558.4 582.1h0M552.2 586.5h0M554.9 583.9h0M524.8 585.6h0M513.8 586.5h0M506.2 586.5h0M507.3 590h0M504.1 593.1h0M507.3 596.1h0M497.5 597h0M501.5 597h0M516.4 597h0M520.8 597h0M579.4 590.5h0M558.4 592.1h0M554.5 594.4h0M535.6 597h0M539.1 600.5h0M554.5 602.2h0M554.5 605.8h0M506.2 603.1h0M578.5 601.4h0M530.4 747.2h0M534.4 738.5h0M553.5 741.3h0M504.5 732.4h0M516.4 734.6h0M524.4 728.5h0M514.3 724.5h0M498.4 710.3h0M502.4 711.4h0M531.2 713.3h0M498.4 695.6h0M514.3 698.8h0M516.4 694.4h0M516.4 690.9h0M514.3 688.2h0M552.2 695.6h0M495.4 681.2h0M502.4 682.1h0M504.1 686.1h0M508.5 682.1h0M514.3 679.5h0M521.3 679.5h0M534.4 680.4h0M544.4 675.5h0M498.4 668.1h0M529.5 667.2h0M533.4 671.6h0M533.4 667.2h0M534.4 663.8h0M508.5 658.1h0M508.5 662h0M518.5 661.1h0M525.3 660.6h0M514.3 654.1h0M516.4 656.8h0M516.4 650.6h0M521.3 648.9h0M533.4 651.5h0M534.4 654.1h0M535.6 660.2h0M502.4 648h0M508.5 647.1h0M508.5 641.9h0M502.4 641.9h0M498.4 636.6h0M516.4 644.5h0M535.6 644.5h0M558.4 650.6h0M572.4 657.3h0M577.6 654.1h0M577.6 650.6h0M577.6 632.2h0M571.5 642.8h0M507.5 639.6h0M495.4 620.6h0M519.6 630.3h0M513.2 625.2h0M516 626.7h0M504.5 620.5h0M498.3 639h0M490.7 623.3h0M498 621.8h0M496.5 633.5h0M496 626.1h0M515.9 630.8h0M495.9 632h0M518.9 634.3h0M492.4 630.8h0M516.3 636.4h0M494.1 624.9h0M506.1 622.1h0M509.2 638.3h0M496.4 639.7h0M512.5 624.6h0M502.2 632h0M500.1 632.8h0M502.4 620.4h0M508.8 620.3h0M504.8 624.7h0M497.7 630.7h0M490.4 627.5h0M506.9 639.7h0M491.7 641.6h0M511.7 631.1h0M492.8 624.6h0M494.3 621.6h0M492.7 635.2h0M502.7 636.5h0M507.7 629.3h0M509.7 629.6h0M499.9 630.8h0M497.7 634.5h0M512.9 633.7h0M499.3 635.4h0M519.3 635.3h0M498.3 627.3h0M518.2 628.9h0M490.3 621.3h0M509.7 627.8h0M500.9 635.4h0M496.8 641.7h0M492.7 634.9h0M494 620.1h0M505.1 620.4h0M495.5 629.7h0M501 640.2h0M495.3 621.5h0M517.6 634.4h0M490.9 621.7h0M497.3 635.5h0M505 641.5h0M500.3 631.7h0M503.8 636.1h0M517.1 624.5h0M512 621h0M509.4 620.5h0M515.9 626.1h0M506.9 620.4h0M517.6 626.3h0M508.8 640.3h0M497.6 622.7h0M503 623.4h0M496.1 622.8h0M509.3 635h0M519.8 624h0M507.1 622.6h0M515.9 621.6h0M498 638.1h0M514.7 634.7h0M499.9 623.7h0M516.7 628h0M510.5 621.7h0M503.6 630.7h0M516.5 630.2h0M516.5 622.5h0M513.4 625.3h0M495.5 637.9h0M519.8 637.9h0M521 633.7h0M559 630.9h0M556.5 630h0M549.4 631.4h0M526.7 630.8h0M523.6 641.7h0M556.7 634.4h0M555.3 642.5h0M521.3 649.4h0M551.7 632.6h0M521.5 641.9h0M529.3 637.7h0M524.2 636.1h0M559.6 630.1h0M555.1 634h0M539.5 631h0M537.1 631.2h0M547.4 631.8h0M549.5 631.4h0M524.5 637.6h0M539.9 634.7h0M534 647.8h0M558.7 632.3h0M549.3 646.8h0M527.1 633.2h0M522.8 633.1h0M540.4 630.2h0M542.3 635.7h0M520.4 634.8h0M546.1 641.9h0M542 638.5h0M559.3 641.9h0M548.7 646.6h0M532.7 635.5h0M558.9 635.9h0M535.4 635.3h0M525.7 635.7h0M520.2 650h0M557.1 640h0M544.4 632.9h0M564.8 630.1h0M562.3 627.1h0M575.7 640.7h0M561 642.5h0M566.5 637h0M571 635.9h0M579.4 629h0M574.9 625h0M570.2 641h0M579.9 634.6h0M572.6 627.6h0M567.6 638.2h0M567.9 637.4h0M572.3 633.1h0M566.4 636.6h0M570.9 635.4h0M572.3 627.5h0M578.2 628.1h0M574.4 632h0M569.5 633.1h0M499.7 642.4h0M509.7 658h0M509.7 648.1h0M502.2 655h0M517.4 641.7h0M512.7 646.7h0M519.2 655.3h0M497.1 656.4h0M517.6 645.2h0M499.2 655.1h0M502.5 641.5h0M505.3 640.8h0M509.6 654.7h0M498.3 646.6h0M641.5 491.2h0M644.2 553.2h0M645.2 568.4h0M649.7 537h0M649.7 543.7h0M650 552h0M649.8 556.5h0M649.8 561h0M649.8 565.5h0M649.7 570h0M632.5 583.3h0M634.3 595h0M634.3 599.5h0M645.2 590.5h0M649.7 589.7h0M643 595h0M645.2 595h0M643 598.7h0M645.2 599.5h0M646.7 601.7h0M650.5 598h0M624.5 607.3h0M640 608.5h0M643.7 606.2h0M649.7 620.5h0M649.7 628h0M624.2 628h0M624.2 631h0M627.2 629.5h0M632.5 634h0M632.5 637h0M633.2 640.7h0M633.2 645.2h0M640 637h0M640 646h0M646 640h0M645.2 644.5h0M644.5 649h0M644.5 657.2h0M645.5 663.5h0M627.2 661.4h0M632.5 664.4h0M632.5 682.2h0M632.5 694.5h0M633.5 699.5h0M626.2 704.3h0M645.5 747.5h0M644.5 652h0M636 641h0M637 632h0M638.5 645.5h0M642.5 640.5h0M648.5 641h0M647.5 646h0M640.5 650h0"/>
<path class="p" clip-path="url(#c4)" d="M258.3 417.5h0M268.4 450.4h0M242.4 472.3h0M262.5 474.5h0M307.3 497.3h0M311.5 500.5h0M268.4 517.4h0M262.5 521.3h0M262.5 541.4h0M268.4 557.3h0M256.4 562.4h0M294.5 565.5h0M278.4 569.4h0M244.6 585.6h0M261.2 585.6h0M268.4 585.6h0M260.4 590.9h0M275.2 587.4h0M278.4 589.5h0M291.5 593.5h0M284.5 594.9h0M307.6 593.5h0M314.6 599.6h0M307.6 601.4h0M299.2 600.5h0M293.6 600.5h0M227.1 601.4h0M226.2 608.4h0M244.6 601.4h0M262.1 597.9h0M266.5 597.9h0M275.2 595.2h0M281.4 599.6h0M293.3 752.5h0M268.2 746.4h0M259.5 748.6h0M253.4 731.3h0M276.5 731.3h0M275.2 708.4h0M275.2 710.6h0M276.5 693.5h0M278.8 694.4h0M291.5 689.5h0M294.5 692.3h0M268.2 677.4h0M268.2 670.8h0M276.5 672.1h0M281.4 667.2h0M293.3 671.1h0M293.3 666.4h0M294 662h0M294.5 659.4h0M253.4 664.6h0M242.3 662.4h0M254.2 652.4h0M253.4 646.2h0M259.5 648h0M259.5 651.5h0M265.6 652.4h0M268.2 648h0M268.2 644.5h0M265.6 642.8h0M275.2 641h0M278.4 651.5h0M304.1 654.1h0M313.4 653.2h0M304.1 644.5h0M301.5 644.5h0M293.6 646.2h0M295.4 649.8h0M234.1 630.5h0M312.9 637.5h0M319 627.9h0M229.4 618.1h0M231.3 615.6h0M231.1 617.3h0M231.1 619h0M231.1 619.5h0M232.5 610h0M233 611.7h0M232.7 613.4h0M232.9 615.1h0M232.6 616.8h0M232.7 618.5h0M232.7 620.2h0M232.7 621.9h0M232.8 621.9h0M234.1 609.6h0M234.3 611.3h0M234.6 613h0M234.1 614.7h0M234.2 616.4h0M234.8 618.1h0M234.3 619.8h0M234.4 621.5h0M234.5 623.1h0M235.8 608.3h0M236.4 610h0M236.6 611.7h0M236 613.4h0M236.2 615.1h0M236.5 616.8h0M236.4 618.5h0M236.1 620.2h0M236.2 621.8h0M237.5 607.9h0M237.9 609.6h0M237.8 611.3h0M238.2 613h0M237.7 614.7h0M237.9 616.4h0M238.1 618.1h0M238.3 619.8h0M237.9 620.4h0M239.7 608.7h0M240.1 610.4h0M239.3 612.1h0M240.1 613.8h0M239.9 615.5h0M239.5 617.2h0M239.8 618.9h0M239.5 620.6h0M239.6 621.7h0M240.9 608.2h0M241.6 609.9h0M241.2 611.6h0M241.4 613.3h0M241.3 615h0M241.8 616.7h0M241.6 618.4h0M240.9 620.1h0M241.3 620.8h0M243 609.1h0M243.4 610.8h0M243 612.5h0M243 614.2h0M243.4 615.9h0M243 617.6h0M243 619.3h0M243 620.4h0M244.8 609.6h0M245.1 611.3h0M244.9 613h0M245 614.7h0M244.7 616.4h0M244.3 618.1h0M244.7 619.5h0M246.7 609.1h0M246.7 610.8h0M246.1 612.5h0M246.2 614.2h0M246 615.9h0M246.8 617.6h0M246.4 617.8h0M247.8 609.4h0M247.7 611.1h0M248.4 612.8h0M248.2 614.5h0M247.7 616.2h0M248.3 617.9h0M248.1 618.7h0M249.4 607.9h0M250 609.6h0M249.8 611.3h0M249.9 613h0M250.3 614.7h0M250.2 616.4h0M250.2 618.1h0M249.8 619.6h0M251.2 607h0M251.4 608.7h0M251.6 610.4h0M251.1 612.1h0M252 613.8h0M251.3 615.5h0M251.3 617.2h0M251.4 618.9h0M251.3 620.6h0M251.5 621.2h0M253.3 607.5h0M253.2 609.2h0M252.8 610.9h0M253.1 612.6h0M253.6 614.3h0M253.6 616h0M253.6 617.7h0M253 619.4h0M253 621.1h0M252.8 622.8h0M253.2 623.2h0M255 606.8h0M254.8 608.5h0M254.9 610.2h0M254.9 611.9h0M255 613.6h0M254.8 615.3h0M255.3 617h0M254.7 618.7h0M255.4 620.4h0M255 622.1h0M254.5 623.8h0M254.9 624.9h0M256.6 605.4h0M256.7 607.1h0M256.5 608.8h0M256.4 610.5h0M256.9 612.2h0M256.4 613.9h0M256.9 615.6h0M257 617.3h0M256.7 619h0M256.6 620.7h0M257.1 622.4h0M256.6 624.1h0M257 625.8h0M256.6 625.9h0M257.9 604.5h0M258.3 606.2h0M258.5 607.9h0M257.9 609.6h0M258.7 611.3h0M257.9 613h0M258.4 614.7h0M258 616.4h0M258.8 618.1h0M258.4 619.8h0M258.7 621.5h0M258.3 623.2h0M258.5 624.9h0M258.5 626.6h0M258.3 627.3h0M260.4 602.1h0M259.7 603.8h0M260.5 605.5h0M259.8 607.2h0M259.7 608.9h0M259.6 610.6h0M260.3 612.3h0M260.5 614h0M260 615.7h0M260.2 617.4h0M259.8 619.1h0M260.5 620.8h0M260.2 622.5h0M259.7 624.2h0M259.6 625.9h0M260.2 627.6h0M259.6 629.3h0M260 629.8h0M262.1 600.4h0M261.5 602.1h0M261.5 603.8h0M261.8 605.5h0M261.6 607.2h0M261.8 608.9h0M261.4 610.6h0M262.2 612.3h0M261.6 614h0M262.1 615.7h0M261.4 617.4h0M262 619.1h0M262.2 620.8h0M261.6 622.5h0M261.3 624.2h0M261.6 625.9h0M261.9 627.6h0M261.5 629.3h0M261.8 631h0M261.7 631.9h0M263.7 602.4h0M263.4 604.1h0M263.6 605.8h0M263.1 607.5h0M263.8 609.2h0M263.1 610.9h0M263.9 612.6h0M263.9 614.3h0M263.9 616h0M263.5 617.7h0M263.2 619.4h0M263.3 621.1h0M263.7 622.8h0M263.4 624.5h0M263.9 626.2h0M263 627.9h0M263.4 629.6h0M263.8 631.3h0M263.5 633h0M263.4 634h0M265.2 603.1h0M264.7 604.8h0M264.8 606.5h0M264.9 608.2h0M265.5 609.9h0M265.5 611.6h0M264.9 613.3h0M265.6 615h0M264.7 616.7h0M265.2 618.4h0M265.6 620.1h0M265 621.8h0M265.6 623.5h0M265.3 625.2h0M264.7 626.9h0M265 628.6h0M265.1 630.3h0M264.9 632h0M265.4 633.7h0M264.8 635.4h0M265.1 635.7h0M266.4 603.5h0M266.9 605.2h0M266.4 606.9h0M266.9 608.6h0M267.1 610.3h0M266.9 612h0M266.8 613.7h0M266.4 615.4h0M266.9 617.1h0M266.4 618.8h0M267 620.5h0M266.5 622.2h0M266.9 623.9h0M266.7 625.6h0M266.7 627.3h0M267 629h0M266.5 630.7h0M266.5 632.4h0M266.8 633.5h0M269 607.1h0M268.4 608.8h0M268.9 610.5h0M268.9 612.2h0M268.5 613.9h0M268.2 615.6h0M268.1 617.3h0M268.9 619h0M268.2 620.7h0M268.5 622.4h0M268.6 624.1h0M268.2 625.8h0M268.5 627.5h0M268.2 629.2h0M268.6 630.9h0M268.5 631.7h0M269.9 613.1h0M270.2 614.8h0M270 616.5h0M269.9 618.2h0M270 619.9h0M270.6 621.6h0M270.3 623.3h0M270.6 625h0M269.8 626.7h0M270.7 628.4h0M270.2 630.1h0M270.2 631.4h0M272.2 610.2h0M272 611.9h0M272.1 613.6h0M271.7 615.3h0M272.2 617h0M271.6 618.7h0M271.7 620.4h0M271.5 622.1h0M271.8 623.8h0M272 625.5h0M271.7 627.2h0M272.3 628.9h0M271.9 629.3h0M273.4 604.3h0M273.7 606h0M273.9 607.7h0M273.9 609.4h0M273.2 611.1h0M273.4 612.8h0M273.7 614.5h0M274.1 616.2h0M273.2 617.9h0M273.8 619.6h0M273.8 621.3h0M274 623h0M273.5 624.7h0M274 626.4h0M273.6 628.1h0M274.1 629.8h0M273.2 631.5h0M273.6 631.9h0M275.8 601.5h0M275.3 603.2h0M275.3 604.9h0M274.9 606.6h0M275.1 608.3h0M275.6 610h0M275.5 611.7h0M275 613.4h0M275.2 615.1h0M275 616.8h0M275 618.5h0M275.1 620.2h0M275.2 621.9h0M275.8 623.6h0M275.8 625.3h0M275.6 627h0M275.3 628.7h0M275.3 630.4h0M275.6 632.1h0M275.8 633.8h0M275.6 635.5h0M275.3 636.1h0M277.2 599.5h0M277.4 601.2h0M277.3 602.9h0M276.6 604.6h0M277.3 606.3h0M276.9 608h0M276.7 609.7h0M277.5 611.4h0M277.2 613.1h0M277.3 614.8h0M276.7 616.5h0M277.4 618.2h0M277.5 619.9h0M277.5 621.6h0M277.3 623.3h0M277.4 625h0M277.4 626.7h0M277.1 628.4h0M277 630.1h0M277.4 631.8h0M277.3 633.5h0M277.4 635.2h0M276.8 636.9h0M277 637.4h0M279.2 600.8h0M278.8 602.5h0M279.2 604.2h0M278.4 605.9h0M279.2 607.6h0M279 609.3h0M278.5 611h0M279.1 612.7h0M278.5 614.4h0M278.4 616.1h0M278.7 617.8h0M278.5 619.5h0M278.7 621.2h0M279.2 622.9h0M278.9 624.6h0M279 626.3h0M278.6 628h0M279 629.7h0M279 631.4h0M278.9 633.1h0M279.2 634.8h0M278.7 636.1h0M280 602.2h0M280.6 603.9h0M280.8 605.6h0M280.3 607.3h0M280.5 609h0M280.8 610.7h0M280.7 612.4h0M280 614.1h0M280.4 615.8h0M280 617.5h0M280.1 619.2h0M280.8 620.9h0M280.4 622.6h0M280.6 624.3h0M280.4 626h0M280.3 627.7h0M280.2 629.4h0M280.3 631.1h0M280.8 632.8h0M280.4 633h0M282.3 603.6h0M281.9 605.3h0M281.7 607h0M281.9 608.7h0M282.4 610.4h0M282.1 612.1h0M282.3 613.8h0M282.5 615.5h0M281.8 617.2h0M282.3 618.9h0M281.7 620.6h0M282.5 622.3h0M281.8 624h0M281.9 625.7h0M282.6 627.4h0M282.1 628.4h0M284.2 606h0M284 607.7h0M284.2 609.4h0M283.7 611.1h0M283.8 612.8h0M284.3 614.5h0M283.9 616.2h0M284.3 617.9h0M283.5 619.6h0M284.2 621.3h0M283.5 623h0M283.9 624.7h0M283.8 624.9h0M285.1 612.1h0M285.2 613.8h0M286 615.5h0M285.5 617.2h0M285.9 618.9h0M285.3 620.6h0M285.5 620.7h0M287.3 615.8h0M287.6 617.5h0M287.2 618.7h0M289 610.8h0M288.8 612.5h0M289.4 614.2h0M289.3 615.9h0M289.1 617.6h0M288.5 619.3h0M289.1 621h0M288.9 622.7h0M289.4 624.4h0M288.8 626.1h0M288.9 627.2h0M290.5 607.2h0M290.7 608.9h0M290.8 610.6h0M291.1 612.3h0M290.6 614h0M290.5 615.7h0M291.1 617.4h0M290.2 619.1h0M291 620.8h0M290.8 622.5h0M290.7 624.2h0M290.6 625.9h0M290.9 627.6h0M291 629.3h0M290.9 631h0M290.9 632.7h0M290.6 633.7h0M291.9 605.3h0M292.2 607h0M292 608.7h0M292.8 610.4h0M292.7 612.1h0M292 613.8h0M292.4 615.5h0M292.4 617.2h0M291.9 618.9h0M292.2 620.6h0M292.6 622.3h0M292.5 624h0M292.1 625.7h0M292.6 627.4h0M292.1 629.1h0M292.4 630.8h0M292.3 632.5h0M292.8 634.2h0M292.5 635.9h0M292.7 637.6h0M292.3 638.2h0M294.5 602.7h0M294.3 604.4h0M294.2 606.1h0M293.8 607.8h0M293.7 609.5h0M294.1 611.2h0M294.4 612.9h0M294.3 614.6h0M293.9 616.3h0M293.7 618h0M294.1 619.7h0M294.4 621.4h0M293.7 623.1h0M294.3 624.8h0M293.7 626.5h0M293.9 628.2h0M293.6 629.9h0M293.8 631.6h0M293.9 633.3h0M294.5 635h0M294.5 636.7h0M293.7 638.4h0M293.9 640.1h0M294.5 641.8h0M294 642.3h0M295.4 602.7h0M295.6 604.4h0M295.7 606.1h0M295.4 607.8h0M295.5 609.5h0M295.6 611.2h0M295.6 612.9h0M296.2 614.6h0M295.5 616.3h0M295.5 618h0M296.2 619.7h0M295.7 621.4h0M296.1 623.1h0M295.9 624.8h0M296 626.5h0M295.6 628.2h0M295.4 629.9h0M296 631.6h0M295.7 633.3h0M295.8 635h0M295.9 636.7h0M296 638.4h0M295.5 640.1h0M295.6 641.8h0M296.2 643.5h0M295.7 643.5h0M297.6 603.6h0M297.2 605.3h0M297.7 607h0M297 608.7h0M297.8 610.4h0M297.5 612.1h0M297.3 613.8h0M297.9 615.5h0M297.2 617.2h0M297.2 618.9h0M297 620.6h0M297.5 622.3h0M297.7 624h0M297.6 625.7h0M297.4 627.4h0M297.8 629.1h0M297.1 630.8h0M297.3 632.5h0M297.6 634.2h0M297.9 635.9h0M297.6 637.6h0M297.6 639.3h0M297.7 641h0M297.3 642.7h0M297.4 643.5h0M299.6 603.7h0M299.4 605.4h0M299 607.1h0M299 608.8h0M299.5 610.5h0M299 612.2h0M298.8 613.9h0M299.5 615.6h0M299.2 617.3h0M299.2 619h0M299.3 620.7h0M299.6 622.4h0M298.8 624.1h0M299 625.8h0M298.7 627.5h0M299.1 629.2h0M299.2 630.9h0M299.5 632.6h0M299.3 634.3h0M299.2 636h0M299.1 637.7h0M299.2 639.4h0M299.1 639.5h0M301.1 604h0M301.2 605.7h0M300.5 607.4h0M301 609.1h0M301.1 610.8h0M300.9 612.5h0M301.2 614.2h0M301.2 615.9h0M301.1 617.6h0M301.2 619.3h0M301 621h0M301.2 622.7h0M300.5 624.4h0M301.1 626.1h0M301.1 627.8h0M301 629.5h0M300.8 630.2h0M302.3 605.4h0M302.1 607.1h0M302.7 608.8h0M302.9 610.5h0M302.3 612.2h0M302.3 613.9h0M302.3 615.6h0M302.1 617.3h0M302.7 619h0M303 620.7h0M302.9 622.4h0M302.4 624.1h0M302.7 625.8h0M302.1 627.5h0M302.5 629h0M303.8 605.7h0M304.4 607.4h0M303.9 609.1h0M304 610.8h0M303.8 612.5h0M304.2 614.2h0M304.3 615.9h0M304.6 617.6h0M303.8 619.3h0M304.6 621h0M303.9 622.7h0M304 624.4h0M304.4 626.1h0M304.1 627.8h0M304.1 629.5h0M304.2 630.9h0M306 605h0M305.7 606.7h0M306.2 608.4h0M305.7 610.1h0M306.3 611.8h0M306.3 613.5h0M306 615.2h0M305.5 616.9h0M306.2 618.6h0M305.5 620.3h0M306 622h0M305.9 623.7h0M305.5 625.4h0M306.1 627.1h0M306.2 628.8h0M305.9 630.1h0M307.7 605.4h0M307.7 607.1h0M307.4 608.8h0M308 610.5h0M308.1 612.2h0M308 613.9h0M308.1 615.6h0M307.5 617.3h0M308.1 619h0M307.2 620.7h0M307.6 622.4h0M307.3 624.1h0M307.6 625.8h0M307.8 627.5h0M307.9 629.2h0M307.6 629.8h0M309.3 606.7h0M309.2 608.4h0M309 610.1h0M309.3 611.8h0M309.1 613.5h0M309 615.2h0M309.6 616.9h0M309.4 618.6h0M309.3 620.3h0M309 622h0M309.6 623.7h0M309 625.4h0M309.1 627.1h0M309.4 628.8h0M309.3 629.5h0M311.3 607.9h0M311.5 609.6h0M311.5 611.3h0M311.3 613h0M311.3 614.7h0M310.6 616.4h0M310.8 618.1h0M310.6 619.8h0M311.4 621.5h0M311.3 623.2h0M311.2 624.9h0M311 626.2h0M312.5 607.8h0M312.6 609.5h0M312.4 611.2h0M312.9 612.9h0M313.2 614.6h0M312.6 616.3h0M312.3 618h0M312.4 619.7h0M312.6 621.4h0M313.1 623.1h0M313.1 624.8h0M312.7 626.5h0M312.7 627.9h0M314.1 605.1h0M314.7 606.8h0M314.4 608.5h0M314.9 610.2h0M314.9 611.9h0M314.7 613.6h0M314.4 615.3h0M314.8 617h0M314.1 618.7h0M314.1 620.4h0M314.5 622.1h0M314.5 623.8h0M314.2 625.5h0M314.2 627.2h0M314 628.9h0M314.4 630.4h0M316.6 606.3h0M316.4 608h0M316.6 609.7h0M316.6 611.4h0M316.1 613.1h0M316.4 614.8h0M316 616.5h0M316.5 618.2h0M316.5 619.9h0M315.8 621.6h0M315.7 623.3h0M315.9 625h0M316.1 626.6h0M317.4 609.9h0M318.2 611.6h0M318.1 613.3h0M317.8 615h0M317.4 616.7h0M318.2 618.4h0M317.9 620.1h0M317.4 621.8h0M317.7 623.5h0M317.8 623.9h0M285.3 606h0M272.9 633.9h0M248.2 608.2h0M310.2 632.2h0M239.2 606.1h0M241.2 622.7h0M270.4 609.9h0M286.3 623h0M268.9 608h0M294.1 644h0M271.7 609h0M289.6 634.1h0M251.2 605h0M291.2 640h0M242.5 602.3h0M283 627.7h0M251.1 598.3h0M250.2 623.3h0M299.7 599.2h0M286.1 623.9h0M233.4 609.2h0M316.4 630.8h0M233.4 609.3h0M251.3 630.9h0M249.4 605.7h0M312.3 636h0M311.4 606.2h0M243.6 620.9h0M297 602.2h0M316.1 630.3h0M246.5 604.9h0M244.4 622.5h0M239.4 604.7h0M308.7 637.2h0M230.2 607h0M279.2 641.4h0M274.5 598.8h0M282.6 633.4h0M236.9 608.5h0M278.3 637.9h0M422.6 418.4h0M418.4 421.5h0M432.4 430.6h0M419.6 434.5h0M412.3 496.2h0M416.5 499.4h0M426.3 501.5h0M438.4 502.4h0M406.5 504.5h0M423.5 513.6h0M418.4 525.3h0M433.3 524.4h0M418.4 537.4h0M426.3 538.2h0M406.5 544.5h0M412.3 558.1h0M418.4 567.2h0M427.5 566.4h0M406.5 571.3h0M424.5 572.1h0M411.4 575.5h0M396.9 578.6h0M427.5 580.4h0M406.5 583h0M395.1 583.9h0M396.9 587.4h0M396.9 591.8h0M409.1 587.4h0M411.8 590h0M423.1 586.5h0M425.8 590h0M415.2 591.8h0M419.6 592.6h0M423.1 593.5h0M438.9 596.1h0M431 596.1h0M361.4 598.2h0M377.3 597h0M389.5 596.1h0M406.5 594.4h0M372.4 604.9h0M359.2 625.9h0M368.4 696.5h0M427.5 750.4h0M424.5 759.5h0M413.5 720.3h0M406.5 711h0M408.2 708.4h0M413.5 707.5h0M413.5 699.6h0M401.2 695.2h0M407.4 690.5h0M427.5 695.6h0M414.4 682.1h0M429.2 681.2h0M408.2 673.4h0M414.4 671.3h0M423.1 674.2h0M426.6 670.8h0M408.2 666.9h0M412.6 666.4h0M419.6 666.9h0M423.6 666.4h0M395.5 656.8h0M395.5 660.6h0M374.5 650.6h0M433.6 659.4h0M427 656.2h0M421.4 656.2h0M413.5 660.2h0M417.9 662.9h0M411.8 653.2h0M417 651.5h0M431 646.2h0M433.6 651.5h0M400.4 645.4h0M396 648.9h0M390.8 636.6h0M397.8 637.5h0M401.2 633.1h0M438 636.6h0M445.9 637.5h0M445.9 641.9h0M360.1 626.1h0M360.7 621h0M360 622.7h0M360.8 624.4h0M360.8 626.1h0M360.4 627.2h0M362.1 617.7h0M361.8 619.4h0M362.3 621.1h0M361.9 622.8h0M362.1 624.5h0M361.8 626.2h0M362.1 627.8h0M363.7 618.3h0M363.4 620h0M364.1 621.7h0M364.2 623.4h0M364.2 625.1h0M363.5 626.8h0M363.8 628.2h0M365.4 616.2h0M365.4 617.9h0M365.8 619.6h0M365.2 621.3h0M365.7 623h0M366 624.7h0M365.8 626.4h0M365.1 628.1h0M365.5 628.7h0M367.4 612h0M367.3 613.7h0M367.3 615.4h0M367.2 617.1h0M367.2 618.8h0M367.4 620.5h0M367.4 622.2h0M367.7 623.9h0M367.5 625.6h0M367.5 627.3h0M367.7 629h0M367.2 629.1h0M369.3 609.6h0M369.2 611.3h0M368.5 613h0M369.1 614.7h0M369.3 616.4h0M368.9 618.1h0M369.3 619.8h0M368.6 621.5h0M369.4 623.2h0M368.9 624.9h0M369.2 626.6h0M368.9 626.8h0M370.5 606.2h0M370.5 607.9h0M370.2 609.6h0M370.6 611.3h0M371.1 613h0M370.8 614.7h0M371.1 616.4h0M370.9 618.1h0M371 619.8h0M370.6 620.9h0M372.8 604.6h0M372.6 606.3h0M372.1 608h0M372.1 609.7h0M372.3 611.4h0M371.9 613.1h0M372.1 614.8h0M372.7 616.5h0M372.3 617.8h0M374.3 605h0M374.3 606.7h0M374.4 608.4h0M374.3 610.1h0M374.1 611.8h0M373.7 613.5h0M374.4 615.2h0M373.9 616.9h0M374.2 618.6h0M373.9 620.3h0M374 621.4h0M375.8 603.6h0M376.2 605.3h0M375.4 607h0M375.8 608.7h0M375.9 610.4h0M375.8 612.1h0M376.2 613.8h0M375.7 615.5h0M376.2 617.2h0M375.9 618.9h0M376.2 620.6h0M375.3 622.3h0M375.7 624h0M377.9 601.5h0M377 603.2h0M377.2 604.9h0M377.7 606.6h0M377.9 608.3h0M377.1 610h0M377.4 611.7h0M377.6 613.4h0M377.6 615.1h0M377.7 616.8h0M377.7 618.5h0M377.2 620.2h0M377.2 621.9h0M377.4 623.1h0M378.7 602.9h0M379.3 604.6h0M378.9 606.3h0M378.9 608h0M379.6 609.7h0M379.3 611.4h0M379.2 613.1h0M379.3 614.8h0M379.2 616.5h0M379.3 618.2h0M379 619.9h0M378.7 621.6h0M379.1 622.6h0M380.7 602.9h0M380.5 604.6h0M380.5 606.3h0M380.8 608h0M381.3 609.7h0M381 611.4h0M380.6 613.1h0M381.1 614.8h0M380.5 616.5h0M380.5 618.2h0M380.7 619.9h0M380.8 621.6h0M381 623.3h0M380.8 623.5h0M382.5 601.7h0M382.8 603.4h0M382.1 605.1h0M383 606.8h0M382.4 608.5h0M382.9 610.2h0M382.1 611.9h0M382.9 613.6h0M382.3 615.3h0M382.9 617h0M382.9 618.7h0M382.7 620.4h0M382.3 622.1h0M382.5 622.1h0M384.7 601.7h0M383.9 603.4h0M384.4 605.1h0M384.3 606.8h0M384.4 608.5h0M383.9 610.2h0M383.9 611.9h0M383.8 613.6h0M384.7 615.3h0M384.1 617h0M384.4 618.7h0M384.3 620.4h0M384.2 620.9h0M385.7 600.8h0M385.5 602.5h0M385.5 604.2h0M386.3 605.9h0M385.6 607.6h0M386.4 609.3h0M385.8 611h0M386.2 612.7h0M385.6 614.4h0M386.2 616.1h0M385.7 617.8h0M385.8 619.5h0M386 621.2h0M385.9 621.8h0M387.9 600h0M387.4 601.7h0M387.5 603.4h0M387.9 605.1h0M387.4 606.8h0M387.3 608.5h0M387.4 610.2h0M387.5 611.9h0M387.5 613.6h0M387.8 615.3h0M387.6 617h0M388 618.7h0M387.2 620.4h0M387.8 622.1h0M387.6 623.4h0M389.7 599.3h0M389.1 601h0M388.9 602.7h0M389.3 604.4h0M389 606.1h0M389.3 607.8h0M389.6 609.5h0M388.9 611.2h0M389 612.9h0M389.3 614.6h0M389 616.3h0M389.1 618h0M389.3 619.7h0M389 621.4h0M388.9 623.1h0M389.2 624.8h0M389.3 626.1h0M391.1 603.7h0M390.6 605.4h0M390.8 607.1h0M391.3 608.8h0M391.1 610.5h0M391.4 612.2h0M391.5 613.9h0M391.4 615.6h0M390.7 617.3h0M391.5 619h0M391.1 620.7h0M390.8 622.4h0M390.7 624.1h0M391.4 625.8h0M390.8 627.5h0M391 628.4h0M392.3 604.6h0M392.5 606.3h0M393.2 608h0M392.7 609.7h0M393 611.4h0M392.3 613.1h0M392.7 614.8h0M392.6 616.5h0M392.5 618.2h0M392.9 619.9h0M392.6 621.6h0M392.4 623.3h0M393.2 625h0M392.7 626.7h0M392.4 628.4h0M392.3 630.1h0M392.7 630.3h0M394 601.5h0M394.4 603.2h0M394.7 604.9h0M394.5 606.6h0M394.2 608.3h0M394.4 610h0M394.6 611.7h0M394.6 613.4h0M394.1 615.1h0M394.8 616.8h0M394.9 618.5h0M394.7 620.2h0M394.8 621.9h0M394.3 623.6h0M394.9 625.3h0M394.1 627h0M394.2 628.7h0M394.5 630.4h0M394.4 630.9h0M396.6 602.8h0M395.7 604.5h0M395.9 606.2h0M395.7 607.9h0M396.1 609.6h0M395.8 611.3h0M395.8 613h0M396.4 614.7h0M396.2 616.4h0M396.6 618.1h0M396.1 619.8h0M396.3 621.5h0M395.7 623.2h0M396.6 624.9h0M395.9 626.6h0M396.1 628.3h0M396.2 630h0M396.1 630.9h0M398.3 605.4h0M398 607.1h0M397.6 608.8h0M398.2 610.5h0M397.6 612.2h0M398.3 613.9h0M397.8 615.6h0M397.6 617.3h0M398.3 619h0M397.7 620.7h0M397.8 622.4h0M397.7 624.1h0M398 625.8h0M397.4 627.5h0M397.7 629.2h0M397.5 630.9h0M397.8 631.5h0M399.9 606.9h0M399.1 608.6h0M399.7 610.3h0M399.3 612h0M399.5 613.7h0M399.6 615.4h0M399.8 617.1h0M399.2 618.8h0M399.3 620.5h0M399.2 622.2h0M400 623.9h0M399.2 625.6h0M399.2 627.3h0M399.6 629h0M399.5 630.7h0M400.8 607.6h0M401 609.3h0M400.9 611h0M401.3 612.7h0M401.2 614.4h0M401.2 616.1h0M401.6 617.8h0M401.4 619.5h0M401.6 621.2h0M401.7 622.9h0M401 624.6h0M401.7 626.3h0M401.2 628h0M401.2 628.1h0M402.5 605.8h0M403.4 607.5h0M402.6 609.2h0M402.5 610.9h0M402.7 612.6h0M402.7 614.3h0M403.4 616h0M403.3 617.7h0M402.9 619.4h0M403 621.1h0M403.3 622.8h0M403.3 624.5h0M403.1 626.2h0M402.9 627.1h0M404.4 600.7h0M404.8 602.4h0M404.7 604.1h0M405 605.8h0M405 607.5h0M405.1 609.2h0M404.3 610.9h0M404.2 612.6h0M405 614.3h0M404.7 616h0M404.3 617.7h0M404.8 619.4h0M404.4 621.1h0M404.4 622.8h0M404.5 624.5h0M404.7 626.2h0M404.8 627.9h0M404.6 628.5h0M405.9 600.6h0M406.6 602.3h0M406.5 604h0M406.3 605.7h0M406.5 607.4h0M406.6 609.1h0M405.9 610.8h0M406.3 612.5h0M406.5 614.2h0M406.6 615.9h0M406.5 617.6h0M406 619.3h0M406.8 621h0M406.6 622.7h0M406.1 624.4h0M406.3 626.1h0M406.8 627.8h0M406.1 629.5h0M406.3 629.9h0M408.5 604.9h0M407.8 606.6h0M408.3 608.3h0M407.9 610h0M408.2 611.7h0M408.3 613.4h0M407.7 615.1h0M407.8 616.8h0M407.8 618.5h0M407.8 620.2h0M407.6 621.9h0M407.7 623.6h0M408 625.3h0M408 627h0M408 628.7h0M409.3 605.3h0M409.8 607h0M410.2 608.7h0M409.8 610.4h0M409.6 612.1h0M410 613.8h0M409.7 615.5h0M409.4 617.2h0M409.7 618.9h0M409.3 620.6h0M409.9 622.3h0M409.4 624h0M409.6 625.7h0M410.2 627.4h0M410 629.1h0M409.7 630.7h0M411.6 601.6h0M411.7 603.3h0M411.9 605h0M411.1 606.7h0M411.7 608.4h0M411.3 610.1h0M411.2 611.8h0M411.8 613.5h0M411.6 615.2h0M411.8 616.9h0M411.8 618.6h0M411.5 620.3h0M411.1 622h0M411 623.7h0M411.5 625.4h0M411.7 627.1h0M411.2 628.8h0M411 630.5h0M411 632.2h0M411.4 632.6h0M412.8 601.3h0M413.3 603h0M412.7 604.7h0M412.9 606.4h0M412.9 608.1h0M413.4 609.8h0M413.6 611.5h0M412.7 613.2h0M412.8 614.9h0M413.6 616.6h0M413.6 618.3h0M412.8 620h0M413 621.7h0M413.2 623.4h0M413 625.1h0M413.1 626.8h0M413.1 628.5h0M412.9 630.2h0M412.7 631.9h0M412.7 633.6h0M413.1 633.9h0M415 599.7h0M415 601.4h0M414.6 603.1h0M415.1 604.8h0M415.1 606.5h0M414.7 608.2h0M414.8 609.9h0M414.5 611.6h0M415.3 613.3h0M414.9 615h0M414.4 616.7h0M414.5 618.4h0M415 620.1h0M414.7 621.8h0M415.1 623.5h0M414.6 625.2h0M415.1 626.9h0M415.2 628.6h0M414.4 630.3h0M414.9 632h0M414.5 633.7h0M415.1 635.4h0M415.2 637.1h0M414.8 637.3h0M416.8 599.4h0M416.3 601.1h0M416.1 602.8h0M416.7 604.5h0M416.6 606.2h0M416.2 607.9h0M416.2 609.6h0M416.6 611.3h0M416.2 613h0M416.7 614.7h0M416.3 616.4h0M416.3 618.1h0M416.5 619.8h0M416.6 621.5h0M416.8 623.2h0M416.1 624.9h0M416.8 626.6h0M416.3 628.3h0M416.3 630h0M416.7 631.7h0M416.7 633.4h0M416.7 635.1h0M417 636.8h0M416.5 638.1h0M418.4 599.1h0M418 600.8h0M417.9 602.5h0M418 604.2h0M418.5 605.9h0M418.6 607.6h0M418.5 609.3h0M418.7 611h0M418.5 612.7h0M418.1 614.4h0M418.1 616.1h0M418.5 617.8h0M417.8 619.5h0M418.4 621.2h0M417.8 622.9h0M417.8 624.6h0M418.3 626.3h0M417.9 628h0M418.7 629.7h0M418.6 631.4h0M418.2 633.1h0M417.9 634.8h0M417.9 636.5h0M418.2 637.7h0M420 598.7h0M420 600.4h0M419.8 602.1h0M420.2 603.8h0M420 605.5h0M420.2 607.2h0M419.6 608.9h0M419.5 610.6h0M419.8 612.3h0M419.9 614h0M419.7 615.7h0M420.1 617.4h0M419.7 619.1h0M419.8 620.8h0M419.9 622.5h0M420.2 624.2h0M420.2 625.9h0M419.8 627.6h0M419.9 629.3h0M420.4 631h0M420.4 632.7h0M420.1 634.4h0M419.6 636.1h0M419.9 637.8h0M419.9 638.3h0M421.2 599.3h0M422.1 601h0M422.1 602.7h0M421.3 604.4h0M421.6 606.1h0M421.8 607.8h0M421.4 609.5h0M421.2 611.2h0M421.9 612.9h0M421.9 614.6h0M421.6 616.3h0M421.2 618h0M421.5 619.7h0M421.2 621.4h0M422.1 623.1h0M421.2 624.8h0M421.4 626.5h0M421.9 628.2h0M421.3 629.9h0M421.3 631.6h0M421.2 633.3h0M421.3 635h0M421.7 636.7h0M421.6 637.9h0M423.7 599.1h0M423 600.8h0M423 602.5h0M423.6 604.2h0M423.3 605.9h0M423.2 607.6h0M423 609.3h0M423.1 611h0M423.8 612.7h0M423 614.4h0M423.1 616.1h0M423.6 617.8h0M423.7 619.5h0M423.8 621.2h0M423.3 622.9h0M423.8 624.6h0M423.5 626.3h0M423.1 628h0M423.3 629.7h0M423.6 631.4h0M423.6 633.1h0M423 634.8h0M423 636.5h0M423.3 636.9h0M425.4 598.8h0M424.9 600.5h0M424.8 602.2h0M424.8 603.9h0M425 605.6h0M425.5 607.3h0M424.7 609h0M425.4 610.7h0M424.9 612.4h0M424.7 614.1h0M425.3 615.8h0M424.9 617.5h0M424.7 619.2h0M425 620.9h0M425.4 622.6h0M425.4 624.3h0M425.1 626h0M424.6 627.7h0M425.3 629.4h0M425.2 631.1h0M425.4 632.8h0M425.5 634.5h0M424.9 636.2h0M425 637h0M427.1 599.3h0M427.1 601h0M426.5 602.7h0M426.6 604.4h0M426.6 606.1h0M426.6 607.8h0M426.6 609.5h0M426.4 611.2h0M426.5 612.9h0M427.2 614.6h0M426.7 616.3h0M426.9 618h0M427.1 619.7h0M427 621.4h0M426.5 623.1h0M427.2 624.8h0M427.1 626.5h0M427.2 628.2h0M427 629.9h0M427 631.6h0M427.1 633.3h0M426.5 635h0M426.7 636.4h0M428.8 600.3h0M428.1 602h0M428.5 603.7h0M428.3 605.4h0M428.8 607.1h0M428.3 608.8h0M428.8 610.5h0M428.8 612.2h0M428.8 613.9h0M428.1 615.6h0M428.9 617.3h0M428.7 619h0M428.6 620.7h0M428.6 622.4h0M428 624.1h0M428.8 625.8h0M428.5 627.5h0M428.4 629.2h0M428.3 630.9h0M428.7 632.6h0M428.4 634h0M430.4 601.8h0M430.5 603.5h0M429.9 605.2h0M430 606.9h0M429.9 608.6h0M429.8 610.3h0M430 612h0M429.7 613.7h0M430.4 615.4h0M429.9 617.1h0M429.7 618.8h0M429.7 620.5h0M430.4 622.2h0M429.8 623.9h0M430.1 625.6h0M430.1 627.3h0M430.5 629h0M430.6 630.7h0M430 632.4h0M430.1 633.3h0M431.8 605h0M432.2 606.7h0M432.1 608.4h0M431.7 610.1h0M432.2 611.8h0M431.9 613.5h0M431.5 615.2h0M431.9 616.9h0M432.2 618.6h0M431.9 620.3h0M431.8 622h0M431.8 623.7h0M432.2 625.4h0M432 627.1h0M431.6 628.8h0M431.8 630.5h0M433.4 605.9h0M433.4 607.6h0M434 609.3h0M433.7 611h0M433.2 612.7h0M434 614.4h0M433.1 616.1h0M433.6 617.8h0M433.5 619.5h0M433.8 621.2h0M433.5 622.9h0M433.1 624.6h0M433.6 626.3h0M433.9 628h0M433.5 629.5h0M435 603.6h0M435.5 605.3h0M435.6 607h0M435 608.7h0M435.6 610.4h0M435.7 612.1h0M435.2 613.8h0M435.1 615.5h0M435.5 617.2h0M435.7 618.9h0M435 620.6h0M435.1 622.3h0M435.1 624h0M435.5 625.7h0M434.9 627.4h0M435.3 629.1h0M435.2 630h0M437 602.7h0M437.1 604.4h0M436.6 606.1h0M437.4 607.8h0M437.4 609.5h0M437 611.2h0M437.2 612.9h0M436.6 614.6h0M437.4 616.3h0M437 618h0M437.2 619.7h0M437.3 621.4h0M436.8 623.1h0M437.4 624.8h0M436.7 626.5h0M436.5 628.2h0M436.9 628.6h0M439.1 608.1h0M439.1 609.8h0M438.7 611.5h0M439.1 613.2h0M438.7 614.9h0M438.3 616.6h0M438.8 618.3h0M439 620h0M438.6 621.7h0M438.8 623.4h0M438.4 625.1h0M438.4 626.8h0M438.6 628.5h0M438.6 629.4h0M440.4 611.5h0M440.3 613.2h0M439.9 614.9h0M439.9 616.6h0M440.2 618.3h0M440.6 620h0M440.6 621.7h0M440.1 623.4h0M440.1 625.1h0M440.4 626.8h0M440.3 628.5h0M442.5 609.4h0M441.8 611.1h0M442.1 612.8h0M442.3 614.5h0M442.3 616.2h0M442.3 617.9h0M442.3 619.6h0M441.8 621.3h0M442.4 623h0M442.5 624.7h0M441.6 626.4h0M442 626.7h0M444.2 609.9h0M443.7 611.6h0M443.3 613.3h0M443.3 615h0M444 616.7h0M443.9 618.4h0M443.4 620.1h0M443.7 621.8h0M443.9 623.5h0M444.2 625.2h0M443.6 626.9h0M443.7 627.7h0M445.1 609.2h0M445.1 610.9h0M445.4 612.6h0M445.6 614.3h0M445.3 616h0M445.1 617.7h0M445.2 619.4h0M445 621.1h0M445.1 622.8h0M445.3 624.5h0M445.5 626.2h0M445.1 627.9h0M445.4 629.1h0M447.1 609.9h0M447.1 611.6h0M447.6 613.3h0M447.1 615h0M447.6 616.7h0M447.1 618.4h0M446.8 620.1h0M447.2 621.8h0M446.8 623.5h0M446.8 625.2h0M446.7 626.9h0M447.1 627.4h0M448.8 612.5h0M448.7 614.2h0M448.8 615.9h0M448.7 617.6h0M449 619.3h0M448.7 621h0M448.8 621.5h0M374.5 599.1h0M411.7 635h0M436.2 600.4h0M392.4 633.2h0M442.4 607.7h0M399.3 632h0M410 598.5h0M426.1 645.1h0M373.9 603h0M436.4 635.2h0M413.2 597.8h0M391.1 637.5h0M409.6 599.7h0M377.1 624.7h0M440.4 603.7h0M363.4 628.9h0M403.4 600.1h0M393.2 637.8h0M392 597.7h0M443.3 632.6h0M403.2 601h0M395.3 635.8h0M430.6 600.9h0M393.8 633.2h0M393.1 594.6h0M408.7 633h0M390.4 594.8h0M375.2 626.9h0M362.9 616.8h0M366.3 633.5h0M374 603.3h0M366.1 629.4h0M425.9 595.9h0M441.6 637.3h0M409.8 595.2h0M368.9 634.4h0M399.4 604.4h0M427.2 641.6h0M395.1 600.8h0M438.3 633.2h0M413.8 591.9h0M364.4 628.2h0M372 605.5h0M423.7 640.4h0M531.2 447.2h0M538.2 507.3h0M565.4 505.4h0M524.4 526.4h0M531.2 532.5h0M551.4 539.5h0M565.4 553.2h0M561.5 559.4h0M531.2 553.2h0M522.5 558.1h0M525.6 556.4h0M522.5 568.1h0M566.4 570.4h0M515.5 578.3h0M522.5 580.4h0M566.4 580.4h0M576.4 581.2h0M561.5 582.1h0M576.4 587.4h0M557.5 587.4h0M539.5 586.5h0M538.2 590h0M527.8 587.4h0M531.2 591.4h0M517.2 588.2h0M531.2 596.1h0M538.2 596.1h0M556.6 598.8h0M561.5 602.2h0M566.2 603.1h0M576.4 600.5h0M497.5 602.2h0M515.5 600.5h0M539.5 748.6h0M576.4 739.5h0M570.3 735.5h0M558.4 734.6h0M515.5 732h0M558.4 713.3h0M567.5 711.4h0M515.5 710.3h0M523.4 707.1h0M524.4 713.3h0M538.2 705.4h0M548.4 699.6h0M551.4 690.5h0M558.4 686.1h0M557.5 681.2h0M518.5 685.6h0M539.5 675.5h0M547.5 675.5h0M553.5 669.4h0M522.5 669.4h0M521.3 665.5h0M515.5 662.9h0M539.5 666.4h0M548.4 666.4h0M547.5 662h0M547.5 657.3h0M558.4 664.6h0M559.2 661.1h0M538.2 657.3h0M538.2 651.1h0M544.4 649.8h0M548.8 650.1h0M553.5 645.4h0M493.3 658.1h0M574.1 655h0M573.2 651.5h0M571.5 646.2h0M576.4 642.8h0M576.4 637.5h0M566.4 641h0M567.1 643.6h0M493.3 627.9h0M489.1 611.4h0M489.6 613.1h0M489.6 614.8h0M489.9 616.5h0M489.3 618.2h0M489.9 619.9h0M489.4 621.6h0M489.4 622.4h0M491 610h0M490.9 611.7h0M490.9 613.4h0M491.6 615.1h0M491.6 616.8h0M491.4 618.5h0M490.8 620.2h0M490.8 621.9h0M490.8 623.6h0M491.1 623.7h0M492.4 609.9h0M492.9 611.6h0M493 613.3h0M492.4 615h0M492.8 616.7h0M493.1 618.4h0M492.9 620.1h0M492.8 621.5h0M494.5 609.1h0M494.9 610.8h0M494.7 612.5h0M494.4 614.2h0M494.4 615.9h0M495 617.6h0M494.9 619.3h0M494.5 620.2h0M495.9 610h0M495.9 611.7h0M496.1 613.4h0M496.4 615.1h0M495.8 616.8h0M496.6 618.5h0M496.5 620.2h0M496.2 620.4h0M498 610.5h0M497.5 612.2h0M498.2 613.9h0M497.9 615.6h0M498.1 617.3h0M498 619h0M497.9 619.5h0M500.1 608.3h0M500.1 610h0M500.1 611.7h0M499.8 613.4h0M499.5 615.1h0M499.5 616.8h0M499.6 618h0M501.1 607.7h0M501.8 609.4h0M501.6 611.1h0M501.6 612.8h0M501.7 614.5h0M501.8 616.2h0M501.3 617.5h0M503.3 607.6h0M502.8 609.3h0M503.2 611h0M502.7 612.7h0M503.4 614.4h0M503 616.1h0M503 617.4h0M504.5 607h0M505.2 608.7h0M504.3 610.4h0M505.2 612.1h0M505 613.8h0M504.4 615.5h0M505 617.2h0M504.7 617.8h0M506.5 611.7h0M506.4 613.4h0M506.9 615.1h0M506 616.8h0M506.4 617.9h0M508.4 612.7h0M507.8 614.4h0M507.9 616.1h0M507.8 617.8h0M508.1 618.3h0M510.1 610.8h0M509.6 612.5h0M510.1 614.2h0M510 615.9h0M509.4 617.6h0M509.8 619.3h0M509.8 619.6h0M511.8 608.8h0M511.3 610.5h0M511.7 612.2h0M511.3 613.9h0M511.4 615.6h0M512 617.3h0M512 619h0M512 620.7h0M511.5 620.8h0M513.6 607.5h0M513.5 609.2h0M513.2 610.9h0M513.6 612.6h0M513.2 614.3h0M513.7 616h0M513.2 617.7h0M512.9 619.4h0M513.5 621.1h0M513.2 622.4h0M514.6 606h0M515.1 607.7h0M514.5 609.4h0M515.4 611.1h0M515 612.8h0M515.2 614.5h0M514.6 616.2h0M515.1 617.9h0M514.8 619.6h0M514.7 621.3h0M515.3 623h0M514.5 624.7h0M514.9 626.4h0M514.9 626.4h0M517 606.3h0M516.2 608h0M516.6 609.7h0M516.6 611.4h0M516.9 613.1h0M516.9 614.8h0M516.5 616.5h0M517.1 618.2h0M516.3 619.9h0M516.3 621.6h0M517 623.3h0M516.3 625h0M516.3 626.7h0M516.7 628.4h0M516.5 630.1h0M516.6 631.6h0M518 605.5h0M518.8 607.2h0M518.3 608.9h0M518.6 610.6h0M518.1 612.3h0M518.8 614h0M518.1 615.7h0M518.8 617.4h0M518.5 619.1h0M518.8 620.8h0M518.6 622.5h0M518.5 624.2h0M518.4 625.9h0M518.7 627.6h0M518.3 629.3h0M517.9 631h0M518.8 632.7h0M518.4 634.3h0M520.3 602.1h0M519.8 603.8h0M520 605.5h0M520.4 607.2h0M520.5 608.9h0M520.5 610.6h0M519.7 612.3h0M520.2 614h0M520.1 615.7h0M520 617.4h0M519.7 619.1h0M519.7 620.8h0M520 622.5h0M520 624.2h0M519.8 625.9h0M519.9 627.6h0M520.1 629.3h0M520.3 631h0M520.1 632.7h0M519.7 634.4h0M520.1 635h0M522.1 601.6h0M521.6 603.3h0M522.2 605h0M522.2 606.7h0M521.4 608.4h0M521.8 610.1h0M522.2 611.8h0M521.6 613.5h0M521.8 615.2h0M521.6 616.9h0M521.3 618.6h0M521.5 620.3h0M521.4 622h0M521.5 623.7h0M521.9 625.4h0M521.8 627.1h0M522.2 628.8h0M521.9 630.5h0M521.6 632.2h0M522.2 633.9h0M521.9 635.6h0M521.8 635.7h0M523.6 604.4h0M523.3 606.1h0M523.6 607.8h0M523.3 609.5h0M523.9 611.2h0M523.2 612.9h0M523.9 614.6h0M523 616.3h0M523 618h0M523.5 619.7h0M523.2 621.4h0M523.5 623.1h0M523.1 624.8h0M523.8 626.5h0M523.6 628.2h0M523.6 629.9h0M523.9 631.6h0M523.9 633.3h0M523.6 635h0M523.7 636.7h0M523.5 637.5h0M524.7 604.7h0M524.7 606.4h0M525.1 608.1h0M525.6 609.8h0M525 611.5h0M525.2 613.2h0M524.7 614.9h0M525.1 616.6h0M525.6 618.3h0M525.2 620h0M525.5 621.7h0M524.7 623.4h0M524.9 625.1h0M524.8 626.8h0M525.5 628.5h0M524.8 630.2h0M525.6 631.9h0M524.9 633.6h0M525.5 635.3h0M525.2 636.6h0M527.3 602.8h0M526.8 604.5h0M527 606.2h0M526.4 607.9h0M527.2 609.6h0M527.3 611.3h0M526.5 613h0M527.1 614.7h0M526.6 616.4h0M526.5 618.1h0M526.7 619.8h0M527 621.5h0M527.3 623.2h0M527.3 624.9h0M527.3 626.6h0M527 628.3h0M527 630h0M526.5 631.7h0M526.9 632.6h0M528.8 603.7h0M528.6 605.4h0M528.4 607.1h0M529 608.8h0M528.3 610.5h0M528.2 612.2h0M528.2 613.9h0M528.2 615.6h0M528.6 617.3h0M528.9 619h0M528.2 620.7h0M528.6 622.4h0M528.6 624.1h0M528.6 625.8h0M528.5 627.5h0M528.6 629.2h0M528.6 629.8h0M530.2 603.7h0M530 605.4h0M530.5 607.1h0M530 608.8h0M530.6 610.5h0M530 612.2h0M529.8 613.9h0M530.2 615.6h0M530.1 617.3h0M530.1 619h0M530.5 620.7h0M530 622.4h0M530.4 624.1h0M530.6 625.8h0M530.2 627.5h0M530.3 629.2h0M530.7 630.9h0M530.3 631.8h0M532.1 604.9h0M531.6 606.6h0M531.5 608.3h0M531.5 610h0M531.8 611.7h0M531.5 613.4h0M532.1 615.1h0M531.9 616.8h0M531.8 618.5h0M532 620.2h0M532.4 621.9h0M531.7 623.6h0M531.6 625.3h0M531.8 627h0M531.8 628.7h0M532.4 630.4h0M532.2 632.1h0M532 633.7h0M533.2 605.9h0M533.3 607.6h0M534 609.3h0M533.8 611h0M533.3 612.7h0M533.8 614.4h0M533.2 616.1h0M533.7 617.8h0M533.5 619.5h0M533.3 621.2h0M533.9 622.9h0M533.9 624.6h0M533.7 626.3h0M533.3 628h0M533.8 629.7h0M533.7 629.7h0M535.3 606.3h0M535.5 608h0M534.9 609.7h0M535.8 611.4h0M534.9 613.1h0M535.1 614.8h0M535.2 616.5h0M535 618.2h0M534.9 619.9h0M535.5 621.6h0M535.8 623.3h0M535.2 625h0M535.4 626.1h0M536.8 604.6h0M537 606.3h0M537.2 608h0M537 609.7h0M536.7 611.4h0M536.6 613.1h0M537.1 614.8h0M537.5 616.5h0M537.5 618.2h0M536.6 619.9h0M537.1 621.6h0M537 623.3h0M537.1 624.4h0M538.4 603.2h0M538.9 604.9h0M538.7 606.6h0M539.1 608.3h0M538.5 610h0M539.2 611.7h0M539.1 613.4h0M538.7 615.1h0M538.4 616.8h0M538.7 618.5h0M538.4 620.2h0M538.9 621.9h0M538.9 623.6h0M538.8 625.3h0M539.2 627h0M538.8 628.7h0M540.8 607.2h0M540.1 608.9h0M540.3 610.6h0M540 612.3h0M540.5 614h0M540.7 615.7h0M540.3 617.4h0M540.6 619.1h0M540.3 620.8h0M540.7 622.5h0M540.2 624.2h0M540.9 625.9h0M540.4 627.6h0M540 629.3h0M540 631h0M540.7 632.7h0M540.5 634.1h0M542.5 608.3h0M542.3 610h0M541.8 611.7h0M542.5 613.4h0M542.4 615.1h0M541.8 616.8h0M542 618.5h0M542.3 620.2h0M541.7 621.9h0M541.7 623.6h0M542 625.3h0M542.5 627h0M542.6 628.7h0M542 630.4h0M542.6 632.1h0M542.2 633.5h0M543.9 606.6h0M544.3 608.3h0M544 610h0M544.3 611.7h0M543.9 613.4h0M543.5 615.1h0M543.9 616.8h0M543.8 618.5h0M543.7 620.2h0M543.7 621.9h0M543.9 623.6h0M543.9 625.3h0M543.6 627h0M543.6 628.7h0M543.9 629.2h0M545.6 607.2h0M545.6 608.9h0M545.5 610.6h0M545.7 612.3h0M545.2 614h0M545.6 615.7h0M545.3 617.4h0M545.8 619.1h0M545.8 620.8h0M545.8 622.5h0M545.6 624.2h0M545.3 625.9h0M546 627.6h0M545.6 629.3h0M545.4 631h0M545.6 632.1h0M547.5 607.5h0M547.6 609.2h0M547.2 610.9h0M547.5 612.6h0M547 614.3h0M547.2 616h0M547.1 617.7h0M547.1 619.4h0M547.1 621.1h0M547.5 622.8h0M547.5 624.5h0M547 626.2h0M547 627.9h0M547.5 629.6h0M547.4 631.3h0M547.4 633h0M547.4 634.7h0M547.4 636.4h0M547.3 637.6h0M548.7 608.1h0M548.5 609.8h0M548.8 611.5h0M548.5 613.2h0M549.4 614.9h0M549 616.6h0M549.1 618.3h0M549.4 620h0M549.3 621.7h0M548.7 623.4h0M548.8 625.1h0M548.6 626.8h0M549.2 628.5h0M549.2 630.2h0M548.9 631.9h0M548.8 633.6h0M548.7 635.3h0M549 636.1h0M551 612h0M551 613.7h0M551 615.4h0M550.6 617.1h0M550.6 618.8h0M550.5 620.5h0M551.1 622.2h0M550.3 623.9h0M550.3 625.6h0M550.4 627.3h0M551.1 629h0M551 630.7h0M550.5 632.4h0M550.7 633.1h0M552.7 612.7h0M552.7 614.4h0M552.3 616.1h0M552 617.8h0M552.6 619.5h0M552.2 621.2h0M552 622.9h0M552.8 624.6h0M552.3 626.3h0M552.2 628h0M552.4 629.7h0M552.1 631.4h0M552.4 632.6h0M553.9 611.1h0M553.6 612.8h0M553.9 614.5h0M554.3 616.2h0M553.9 617.9h0M554.2 619.6h0M554.2 621.3h0M553.7 623h0M553.6 624.7h0M554.2 626.4h0M554.2 628.1h0M553.8 629.8h0M553.8 631.5h0M554.1 633.2h0M556.1 610.4h0M556.2 612.1h0M555.5 613.8h0M555.8 615.5h0M555.8 617.2h0M555.6 618.9h0M555.3 620.6h0M555.6 622.3h0M555.9 624h0M555.9 625.7h0M555.8 627.4h0M555.4 629.1h0M555.5 630.8h0M555.6 632.5h0M555.8 634.1h0M557.9 609.3h0M557.1 611h0M557.9 612.7h0M557.2 614.4h0M557.8 616.1h0M557.2 617.8h0M557.5 619.5h0M557.3 621.2h0M557 622.9h0M557.7 624.6h0M557.8 626.3h0M557.2 628h0M557.7 629.7h0M557.4 631.4h0M557.9 633.1h0M557.5 634.5h0M558.7 608.7h0M559 610.4h0M558.9 612.1h0M559.3 613.8h0M559.4 615.5h0M559.5 617.2h0M559.2 618.9h0M559 620.6h0M559.4 622.3h0M558.8 624h0M558.9 625.7h0M559.4 627.4h0M559.1 629.1h0M559.6 630.8h0M558.7 632.5h0M559.1 634.2h0M559.2 635.5h0M560.4 606.1h0M560.4 607.8h0M560.7 609.5h0M560.8 611.2h0M560.9 612.9h0M560.6 614.6h0M561.1 616.3h0M560.9 618h0M561.3 619.7h0M560.5 621.4h0M560.9 623.1h0M560.8 624.8h0M560.7 626.5h0M561.2 628.2h0M560.6 629.9h0M561.2 631.6h0M560.7 633.3h0M560.9 634.6h0M562.4 605.8h0M562.7 607.5h0M562.6 609.2h0M562.3 610.9h0M562.1 612.6h0M563 614.3h0M562.4 616h0M562.2 617.7h0M562.7 619.4h0M562.6 621.1h0M562.4 622.8h0M562.4 624.5h0M562.9 626.2h0M562.4 627.9h0M562.5 629.6h0M563 631.3h0M562.6 632.7h0M563.9 607.5h0M564.4 609.2h0M564.4 610.9h0M564.2 612.6h0M564.2 614.3h0M564 616h0M564.5 617.7h0M564.2 619.4h0M564.6 621.1h0M564.1 622.8h0M564.5 624.5h0M563.8 626.2h0M564 627.9h0M564.7 629.6h0M564.3 630.2h0M566.1 607.7h0M566.1 609.4h0M565.9 611.1h0M565.9 612.8h0M565.6 614.5h0M565.6 616.2h0M566.1 617.9h0M566.1 619.6h0M565.7 621.3h0M566.1 623h0M565.6 624.7h0M566.1 626.4h0M565.6 628.1h0M566 629.7h0M567.7 608.9h0M567.3 610.6h0M567.6 612.3h0M567.8 614h0M567.3 615.7h0M567.5 617.4h0M567.8 619.1h0M567.7 620.8h0M567.8 622.5h0M567.9 624.2h0M567.7 625.9h0M567.4 627.6h0M567.6 629.3h0M567.7 630.7h0M569.7 609.6h0M569.4 611.3h0M569.6 613h0M569.2 614.7h0M569.3 616.4h0M569.8 618.1h0M569.7 619.8h0M569.5 621.5h0M569 623.2h0M569.5 624.9h0M568.9 626.6h0M569.8 628.3h0M569.4 629.5h0M570.8 611.9h0M571.4 613.6h0M570.7 615.3h0M571.4 617h0M571.1 618.7h0M570.6 620.4h0M571.4 622.1h0M571 623.8h0M571.4 625.5h0M571.2 627.2h0M571.1 627.6h0M572.8 610h0M573.1 611.7h0M572.5 613.4h0M573.1 615.1h0M572.6 616.8h0M572.3 618.5h0M572.6 620.2h0M572.3 621.9h0M572.3 623.6h0M572.9 625.3h0M572.8 625.5h0M574.2 605.3h0M574.2 607h0M574.9 608.7h0M574.9 610.4h0M574.8 612.1h0M574.9 613.8h0M574.4 615.5h0M574.7 617.2h0M574.2 618.9h0M574.9 620.6h0M574.8 622.3h0M574.5 623.1h0M576.4 604.2h0M575.9 605.9h0M575.7 607.6h0M576.6 609.3h0M576.2 611h0M576.3 612.7h0M576.5 614.4h0M575.8 616.1h0M576.3 617.8h0M576.1 619.5h0M576.4 621.2h0M576.2 621.8h0M578.3 604.9h0M577.6 606.6h0M578.1 608.3h0M578.2 610h0M577.6 611.7h0M578 613.4h0M577.7 615.1h0M577.6 616.8h0M577.6 618.5h0M578.3 620.2h0M577.9 621.5h0M522.4 599.3h0M534.1 628.7h0M556.3 605.6h0M567.1 631.9h0M508.5 608h0M554.4 636.1h0M525.7 599.4h0M503.6 626.3h0M531.5 603h0M559.3 636.5h0M553.6 608.7h0M561.5 633.6h0M514.3 602h0M532.5 633.6h0M540.9 604.1h0M528.5 629.2h0M560.3 606.4h0M563.1 634h0M542.9 603.7h0M501 623.8h0M515.7 599.2h0M559.2 639.3h0M561.7 605.2h0M549.3 646h0M506.6 607.7h0M526.3 636h0M503.1 607h0M566.3 632.3h0M503.1 607.1h0M540.8 634.9h0M531.8 603.1h0M528.7 631.5h0M563.6 606.6h0M571.8 627.2h0M493.4 604.7h0M540.2 636.9h0M509.2 606h0M517 638.4h0M510.1 607.9h0M547 640.2h0M649.4 475.5h0M649.4 492h0M649.4 499.5h0M649.4 502h0M649.4 513.3h0M649.4 518.2h0M649.4 527.2h0M649.4 534h0M649.4 540h0M649.4 546h0M649.4 549h0M649.7 553h0M618.2 605.2h0M617.5 611.2h0M621.2 611.5h0M618.2 623.5h0M617.5 636.2h0M620.8 635.2h0M627.2 633.2h0M636.2 666.2h0M644.5 660.5h0M649.7 593.5h0M641.5 642.2h0M619 615h0M620 619.5h0M618.5 618h0M639.5 640.5h0M643.5 643h0M637 643.5h0M641 638h0M646.5 639.5h0M635.5 638.5h0M619.1 614.5h0M619.1 616.2h0M618.6 617.9h0M619 619.6h0M619.2 621.3h0M618.6 623h0M619 624.3h0M621 614.1h0M621 615.8h0M620.2 617.5h0M620.4 619.2h0M620.2 620.9h0M620.4 622.6h0M620.2 624.3h0M620.7 625.1h0M622.2 615.1h0M622.3 616.8h0M622.2 618.5h0M622.6 620.2h0M622.6 621.9h0M622 623.6h0M622.1 625.3h0M622.4 625.9h0M623.6 615.3h0M623.9 617h0M623.7 618.7h0M624.2 620.4h0M624.3 622.1h0M624.5 623.8h0M623.8 625.5h0M624.1 626.8h0M625.7 617.4h0M626.2 619.1h0M625.6 620.8h0M625.6 622.5h0M625.3 624.2h0M626.2 625.9h0M625.8 626.8h0M627.5 617.1h0M627.4 618.8h0M627.4 620.5h0M627.7 622.2h0M627.8 623.9h0M627.4 625.6h0M627.1 627.3h0M627.5 627.7h0M629.1 617h0M629.3 618.7h0M629.2 620.4h0M629.1 622.1h0M629.2 623.8h0M628.9 625.5h0M629.2 626.6h0M630.9 616.6h0M631.2 618.3h0M630.4 620h0M630.7 621.7h0M631.2 623.4h0M631.3 625.1h0M630.4 626.8h0M630.9 627.6h0M632.9 614.3h0M632.5 616h0M632.2 617.7h0M632.4 619.4h0M632.8 621.1h0M632.8 622.8h0M632.3 624.5h0M632.7 626.2h0M632.7 627.9h0M632.6 629h0M634.4 613.7h0M633.8 615.4h0M634.2 617.1h0M634.1 618.8h0M634.3 620.5h0M634.1 622.2h0M633.9 623.9h0M634.4 625.6h0M634 627.3h0M634.5 629h0M634.3 630h0M636.3 611.7h0M635.6 613.4h0M636.2 615.1h0M635.5 616.8h0M636.4 618.5h0M635.5 620.2h0M636.2 621.9h0M635.8 623.6h0M635.6 625.3h0M635.8 627h0M636 628.7h0M635.9 630.4h0M636 630.5h0M637.3 610.9h0M637.7 612.6h0M637.5 614.3h0M638.1 616h0M637.5 617.7h0M637.6 619.4h0M637.4 621.1h0M638.1 622.8h0M637.5 624.5h0M637.8 626.2h0M638 627.9h0M637.5 629.6h0M637.9 631.3h0M637.7 631.3h0M638.9 609.2h0M639.3 610.9h0M639.7 612.6h0M639.1 614.3h0M639.3 616h0M639.6 617.7h0M639.1 619.4h0M639 621.1h0M639.4 622.8h0M639.3 624.5h0M639.8 626.2h0M639.7 627.9h0M639.1 629.6h0M639.4 631.3h0M639.3 633h0M639.4 633h0M640.6 608.3h0M641 610h0M641.5 611.7h0M640.9 613.4h0M641.1 615.1h0M641.3 616.8h0M640.6 618.5h0M641.5 620.2h0M640.7 621.9h0M640.9 623.6h0M641.3 625.3h0M640.6 627h0M640.9 628.7h0M640.7 630.4h0M641 632.1h0M641.1 632.8h0M642.5 608.6h0M642.3 610.3h0M642.3 612h0M642.4 613.7h0M642.8 615.4h0M642.4 617.1h0M643.1 618.8h0M642.7 620.5h0M642.5 622.2h0M642.5 623.9h0M643.1 625.6h0M642.3 627.3h0M643 629h0M642.3 630.7h0M643.2 632.4h0M642.8 633.8h0M644.4 607.8h0M644.5 609.5h0M644.8 611.2h0M644.1 612.9h0M644 614.6h0M644.6 616.3h0M644.5 618h0M644.7 619.7h0M644.2 621.4h0M644.4 623.1h0M644.1 624.8h0M644.4 626.5h0M644.2 628.2h0M644.5 629.9h0M644.2 631.6h0M644.2 633.3h0M644.5 634.1h0M646.5 606.5h0M646.1 608.2h0M645.9 609.9h0M645.8 611.6h0M646.2 613.3h0M646.2 615h0M646.4 616.7h0M646 618.4h0M646.1 620.1h0M646.5 621.8h0M645.9 623.5h0M646.6 625.2h0M646.5 626.9h0M646.6 628.6h0M646.6 630.3h0M645.9 632h0M646.2 632.4h0M648.2 605.8h0M648 607.5h0M647.6 609.2h0M648.3 610.9h0M648 612.6h0M648.2 614.3h0M647.9 616h0M647.4 617.7h0M648.2 619.4h0M647.5 621.1h0M647.6 622.8h0M648 624.5h0M647.5 626.2h0M647.8 627.9h0M648.1 629.6h0M647.9 630.7h0M622.3 611.7h0M622.5 627.3h0M638.3 607.7h0M620.8 625.1h0M647.3 605.1h0M631.8 631.6h0M639.7 606.6h0M638.4 635.1h0M636 609.8h0M624.9 635.5h0"/>
<path class="ln" clip-path="url(#c1)" style="stroke-width:1.4" d="M80 253.3 L264.3 253.3 Q266.3 252.9 268.8 249.8 L400.5 40.3"/>
<path class="ln" clip-path="url(#c2)" style="stroke-width:1.45" d="M416 233.3 L706 233.3 L710.25 40"/>
<path class="ln" clip-path="url(#c4)" style="stroke-width:1.2" d="M605 617.45 L649.3 617.45 L649.45 400"/>
<rect class="fr" x="80.5" y="40.5" width="320" height="320"/>
<rect class="fr" x="416.5" y="40.5" width="320" height="320"/>
<path class="fr" d="M211 400.5 H80.5 V760.5 H211 M214 400.5 H736.5 V760.5 H214"/>
<line class="tk" x1="134.5" y1="360.0" x2="134.5" y2="354.4"/>
<line class="tk" x1="134.5" y1="41.0" x2="134.5" y2="46.6"/>
<line class="tk" x1="187.5" y1="360.0" x2="187.5" y2="354.4"/>
<line class="tk" x1="187.5" y1="41.0" x2="187.5" y2="46.6"/>
<line class="tk" x1="240.5" y1="360.0" x2="240.5" y2="354.4"/>
<line class="tk" x1="240.5" y1="41.0" x2="240.5" y2="46.6"/>
<line class="tk" x1="294.5" y1="360.0" x2="294.5" y2="354.4"/>
<line class="tk" x1="294.5" y1="41.0" x2="294.5" y2="46.6"/>
<line class="tk" x1="347.5" y1="360.0" x2="347.5" y2="354.4"/>
<line class="tk" x1="347.5" y1="41.0" x2="347.5" y2="46.6"/>
<line class="tk" x1="81.0" y1="45.5" x2="86.6" y2="45.5"/>
<line class="tk" x1="400.0" y1="45.5" x2="394.4" y2="45.5"/>
<line class="tk" x1="81.0" y1="114.5" x2="86.6" y2="114.5"/>
<line class="tk" x1="400.0" y1="114.5" x2="394.4" y2="114.5"/>
<line class="tk" x1="81.0" y1="183.5" x2="86.6" y2="183.5"/>
<line class="tk" x1="400.0" y1="183.5" x2="394.4" y2="183.5"/>
<line class="tk" x1="81.0" y1="251.5" x2="86.6" y2="251.5"/>
<line class="tk" x1="400.0" y1="251.5" x2="394.4" y2="251.5"/>
<line class="tk" x1="81.0" y1="320.5" x2="86.6" y2="320.5"/>
<line class="tk" x1="400.0" y1="320.5" x2="394.4" y2="320.5"/>
<line class="tk" x1="419.5" y1="360.0" x2="419.5" y2="354.4"/>
<line class="tk" x1="419.5" y1="41.0" x2="419.5" y2="46.6"/>
<line class="tk" x1="478.5" y1="360.0" x2="478.5" y2="354.4"/>
<line class="tk" x1="478.5" y1="41.0" x2="478.5" y2="46.6"/>
<line class="tk" x1="537.5" y1="360.0" x2="537.5" y2="354.4"/>
<line class="tk" x1="537.5" y1="41.0" x2="537.5" y2="46.6"/>
<line class="tk" x1="596.5" y1="360.0" x2="596.5" y2="354.4"/>
<line class="tk" x1="596.5" y1="41.0" x2="596.5" y2="46.6"/>
<line class="tk" x1="655.5" y1="360.0" x2="655.5" y2="354.4"/>
<line class="tk" x1="655.5" y1="41.0" x2="655.5" y2="46.6"/>
<line class="tk" x1="715.5" y1="360.0" x2="715.5" y2="354.4"/>
<line class="tk" x1="715.5" y1="41.0" x2="715.5" y2="46.6"/>
<line class="tk" x1="736.0" y1="45.5" x2="730.4" y2="45.5"/>
<line class="tk" x1="736.0" y1="107.5" x2="730.4" y2="107.5"/>
<line class="tk" x1="736.0" y1="170.5" x2="730.4" y2="170.5"/>
<line class="tk" x1="736.0" y1="232.5" x2="730.4" y2="232.5"/>
<line class="tk" x1="736.0" y1="294.5" x2="730.4" y2="294.5"/>
<line class="tk" x1="736.0" y1="356.5" x2="730.4" y2="356.5"/>
<line class="tk" x1="109.5" y1="760.0" x2="109.5" y2="754.4"/>
<line class="tk" x1="109.5" y1="401.0" x2="109.5" y2="406.6"/>
<line class="tk" x1="180.5" y1="760.0" x2="180.5" y2="754.4"/>
<line class="tk" x1="180.5" y1="401.0" x2="180.5" y2="406.6"/>
<line class="tk" x1="257.5" y1="760.0" x2="257.5" y2="754.4"/>
<line class="tk" x1="257.5" y1="401.0" x2="257.5" y2="406.6"/>
<line class="tk" x1="328.5" y1="760.0" x2="328.5" y2="754.4"/>
<line class="tk" x1="328.5" y1="401.0" x2="328.5" y2="406.6"/>
<line class="tk" x1="400.5" y1="760.0" x2="400.5" y2="754.4"/>
<line class="tk" x1="400.5" y1="401.0" x2="400.5" y2="406.6"/>
<line class="tk" x1="471.5" y1="760.0" x2="471.5" y2="754.4"/>
<line class="tk" x1="471.5" y1="401.0" x2="471.5" y2="406.6"/>
<line class="tk" x1="543.5" y1="760.0" x2="543.5" y2="754.4"/>
<line class="tk" x1="543.5" y1="401.0" x2="543.5" y2="406.6"/>
<line class="tk" x1="614.5" y1="760.0" x2="614.5" y2="754.4"/>
<line class="tk" x1="614.5" y1="401.0" x2="614.5" y2="406.6"/>
<line class="tk" x1="686.5" y1="760.0" x2="686.5" y2="754.4"/>
<line class="tk" x1="686.5" y1="401.0" x2="686.5" y2="406.6"/>
<line class="tk" x1="81.0" y1="406.5" x2="86.6" y2="406.5"/>
<line class="tk" x1="736.0" y1="406.5" x2="730.4" y2="406.5"/>
<line class="tk" x1="81.0" y1="476.5" x2="86.6" y2="476.5"/>
<line class="tk" x1="736.0" y1="476.5" x2="730.4" y2="476.5"/>
<line class="tk" x1="81.0" y1="546.5" x2="86.6" y2="546.5"/>
<line class="tk" x1="736.0" y1="546.5" x2="730.4" y2="546.5"/>
<line class="tk" x1="81.0" y1="616.5" x2="86.6" y2="616.5"/>
<line class="tk" x1="736.0" y1="616.5" x2="730.4" y2="616.5"/>
<line class="tk" x1="81.0" y1="686.5" x2="86.6" y2="686.5"/>
<line class="tk" x1="736.0" y1="686.5" x2="730.4" y2="686.5"/>
<line class="tk" x1="81.0" y1="756.5" x2="86.6" y2="756.5"/>
<line class="tk" x1="736.0" y1="756.5" x2="730.4" y2="756.5"/>
<g style="filter:grayscale(1)"><text x="79.9" y="374.7" text-anchor="middle" textLength="21.5" lengthAdjust="spacingAndGlyphs">0.5</text><text x="133.2" y="374.7" text-anchor="middle" textLength="21.5" lengthAdjust="spacingAndGlyphs">1.0</text><text x="186.5" y="374.7" text-anchor="middle" textLength="21.5" lengthAdjust="spacingAndGlyphs">1.5</text><text x="239.9" y="374.7" text-anchor="middle" textLength="21.5" lengthAdjust="spacingAndGlyphs">2.0</text><text x="293.2" y="374.7" text-anchor="middle" textLength="21.5" lengthAdjust="spacingAndGlyphs">2.5</text><text x="346.5" y="374.7" text-anchor="middle" textLength="21.5" lengthAdjust="spacingAndGlyphs">3.0</text><text x="399.0" y="388.7" text-anchor="end" textLength="75.3" lengthAdjust="spacingAndGlyphs">+6.0795e4</text><text x="74.4" y="50.7" text-anchor="end" textLength="43.1" lengthAdjust="spacingAndGlyphs">30000</text><text x="74.4" y="119.3" text-anchor="end" textLength="43.1" lengthAdjust="spacingAndGlyphs">20000</text><text x="74.4" y="187.9" text-anchor="end" textLength="43.1" lengthAdjust="spacingAndGlyphs">10000</text><text x="74.4" y="256.6" text-anchor="end" textLength="8.6" lengthAdjust="spacingAndGlyphs">0</text><text x="74.4" y="325.2" text-anchor="end" textLength="54.3" lengthAdjust="spacingAndGlyphs">−10000</text><text x="418.3" y="374.7" text-anchor="middle" textLength="43.1" lengthAdjust="spacingAndGlyphs">60700</text><text x="477.4" y="374.7" text-anchor="middle" textLength="43.1" lengthAdjust="spacingAndGlyphs">60720</text><text x="536.6" y="374.7" text-anchor="middle" textLength="43.1" lengthAdjust="spacingAndGlyphs">60740</text><text x="595.8" y="374.7" text-anchor="middle" textLength="43.1" lengthAdjust="spacingAndGlyphs">60760</text><text x="654.9" y="374.7" text-anchor="middle" textLength="43.1" lengthAdjust="spacingAndGlyphs">60780</text><text x="714.0" y="374.7" text-anchor="middle" textLength="43.1" lengthAdjust="spacingAndGlyphs">60800</text><text x="739.9" y="50.6" text-anchor="start" textLength="43.1" lengthAdjust="spacingAndGlyphs">30000</text><text x="739.9" y="112.7" text-anchor="start" textLength="43.1" lengthAdjust="spacingAndGlyphs">20000</text><text x="739.9" y="174.8" text-anchor="start" textLength="43.1" lengthAdjust="spacingAndGlyphs">10000</text><text x="739.9" y="236.9" text-anchor="start" textLength="8.6" lengthAdjust="spacingAndGlyphs">0</text><text x="739.9" y="299.0" text-anchor="start" textLength="54.3" lengthAdjust="spacingAndGlyphs">−10000</text><text x="739.9" y="361.1" text-anchor="start" textLength="54.3" lengthAdjust="spacingAndGlyphs">−20000</text><text x="106.9" y="775.0" text-anchor="middle" textLength="43.1" lengthAdjust="spacingAndGlyphs">58200</text><text x="179.2" y="775.0" text-anchor="middle" textLength="43.1" lengthAdjust="spacingAndGlyphs">58400</text><text x="256.3" y="775.0" text-anchor="middle" textLength="43.1" lengthAdjust="spacingAndGlyphs">59700</text><text x="327.8" y="775.0" text-anchor="middle" textLength="43.1" lengthAdjust="spacingAndGlyphs">59900</text><text x="399.3" y="775.0" text-anchor="middle" textLength="43.1" lengthAdjust="spacingAndGlyphs">60100</text><text x="470.7" y="775.0" text-anchor="middle" textLength="43.1" lengthAdjust="spacingAndGlyphs">60300</text><text x="542.2" y="775.0" text-anchor="middle" textLength="43.1" lengthAdjust="spacingAndGlyphs">60500</text><text x="613.7" y="775.0" text-anchor="middle" textLength="43.1" lengthAdjust="spacingAndGlyphs">60700</text><text x="685.2" y="775.0" text-anchor="middle" textLength="43.1" lengthAdjust="spacingAndGlyphs">60900</text><text x="73.9" y="410.4" text-anchor="end" textLength="43.1" lengthAdjust="spacingAndGlyphs">30000</text><text x="73.9" y="480.3" text-anchor="end" textLength="43.1" lengthAdjust="spacingAndGlyphs">20000</text><text x="73.9" y="550.2" text-anchor="end" textLength="43.1" lengthAdjust="spacingAndGlyphs">10000</text><text x="73.9" y="620.1" text-anchor="end" textLength="8.6" lengthAdjust="spacingAndGlyphs">0</text><text x="73.9" y="690.0" text-anchor="end" textLength="54.3" lengthAdjust="spacingAndGlyphs">−10000</text><text x="73.9" y="759.9" text-anchor="end" textLength="54.3" lengthAdjust="spacingAndGlyphs">−20000</text><text x="106.0" y="30.6" text-anchor="start" textLength="146.4" lengthAdjust="spacingAndGlyphs">BLG02K0103.055607</text><text x="258.1" y="30.6" text-anchor="start" textLength="48.1" lengthAdjust="spacingAndGlyphs">(89.29,</text><text x="311.8" y="30.6" text-anchor="start" textLength="61.9" lengthAdjust="spacingAndGlyphs">2851.46)</text><text x="401.3" y="30.6" text-anchor="start" textLength="8.2" lengthAdjust="spacingAndGlyphs">3</text><text x="414.3" y="30.6" text-anchor="start" textLength="35.1" lengthAdjust="spacingAndGlyphs">9927</text><text x="455.6" y="30.6" text-anchor="start" textLength="54.6" lengthAdjust="spacingAndGlyphs">1264.75</text><text x="515.5" y="30.6" text-anchor="start" textLength="43.9" lengthAdjust="spacingAndGlyphs">-8.000</text><text x="564.3" y="30.6" text-anchor="start" textLength="13.4" lengthAdjust="spacingAndGlyphs">-8</text><text x="582.3" y="30.6" text-anchor="start" textLength="84.7" lengthAdjust="spacingAndGlyphs">[60794.663,</text><text x="671.3" y="30.6" text-anchor="start" textLength="79.9" lengthAdjust="spacingAndGlyphs">60798.246]</text></g>
</svg></body></html>
